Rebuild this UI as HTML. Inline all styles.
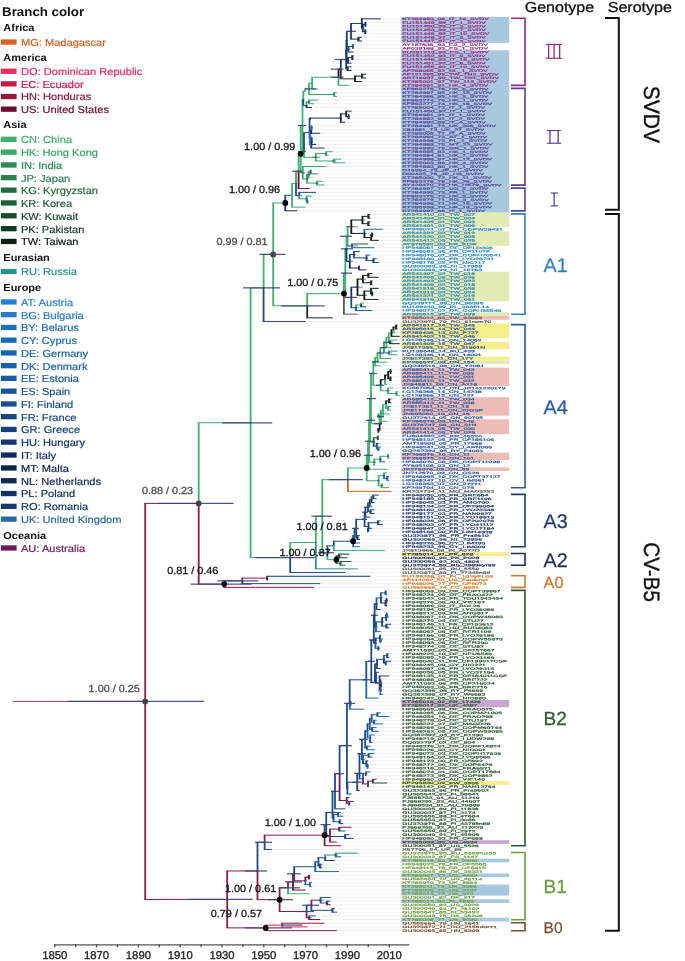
<!DOCTYPE html><html><head><meta charset="utf-8"><style>html,body{margin:0;padding:0;background:#fff;}svg{display:block;will-change:transform;text-rendering:geometricPrecision;font-family:"Liberation Sans",sans-serif;}</style></head><body><svg width="685" height="961" viewBox="0 0 685 961" font-family="Liberation Sans, sans-serif">
<rect width="685" height="961" fill="#fff"/>
<text x="2.1" y="16.1" font-size="12.6" font-weight="bold" fill="#111" textLength="82" lengthAdjust="spacingAndGlyphs">Branch color</text>
<text x="3.3" y="30.7" font-size="10.1" font-weight="bold" fill="#111" textLength="31.2" lengthAdjust="spacingAndGlyphs">Africa</text>
<rect x="0.9" y="39.4" width="15.7" height="5.3" fill="#d9621f"/>
<text x="20.9" y="45.9" font-size="10.2" fill="#d9621f" stroke="#d9621f" stroke-width="0.2" textLength="85.1" lengthAdjust="spacingAndGlyphs">MG: Madagascar</text>
<text x="3.3" y="60.9" font-size="10.1" font-weight="bold" fill="#111" textLength="43.4" lengthAdjust="spacingAndGlyphs">America</text>
<rect x="0.9" y="68.6" width="15.7" height="5.3" fill="#ee2a62"/>
<text x="20.9" y="75.1" font-size="10.2" fill="#ee2a62" stroke="#ee2a62" stroke-width="0.2" textLength="121.5" lengthAdjust="spacingAndGlyphs">DO: Dominican Republic</text>
<rect x="0.9" y="81.2" width="15.7" height="5.3" fill="#cc1a4c"/>
<text x="20.9" y="87.7" font-size="10.2" fill="#cc1a4c" stroke="#cc1a4c" stroke-width="0.2" textLength="62.9" lengthAdjust="spacingAndGlyphs">EC: Ecuador</text>
<rect x="0.9" y="93.9" width="15.7" height="5.3" fill="#92183c"/>
<text x="20.9" y="100.4" font-size="10.2" fill="#92183c" stroke="#92183c" stroke-width="0.2" textLength="70.3" lengthAdjust="spacingAndGlyphs">HN: Honduras</text>
<rect x="0.9" y="106.5" width="15.7" height="5.3" fill="#6a0e2a"/>
<text x="20.9" y="113.0" font-size="10.2" fill="#6a0e2a" stroke="#6a0e2a" stroke-width="0.2" textLength="88.2" lengthAdjust="spacingAndGlyphs">US: United States</text>
<text x="3.3" y="128.1" font-size="10.1" font-weight="bold" fill="#111" textLength="23.2" lengthAdjust="spacingAndGlyphs">Asia</text>
<rect x="0.9" y="136.7" width="15.7" height="5.3" fill="#3cb06c"/>
<text x="20.9" y="143.2" font-size="10.2" fill="#3cb06c" stroke="#3cb06c" stroke-width="0.2" textLength="51.2" lengthAdjust="spacingAndGlyphs">CN: China</text>
<rect x="0.9" y="149.5" width="15.7" height="5.3" fill="#38a866"/>
<text x="20.9" y="156.0" font-size="10.2" fill="#38a866" stroke="#38a866" stroke-width="0.2" textLength="77.1" lengthAdjust="spacingAndGlyphs">HK: Hong Kong</text>
<rect x="0.9" y="162.3" width="15.7" height="5.3" fill="#2c8a52"/>
<text x="20.9" y="168.8" font-size="10.2" fill="#2c8a52" stroke="#2c8a52" stroke-width="0.2" textLength="41.3" lengthAdjust="spacingAndGlyphs">IN: India</text>
<rect x="0.9" y="175.0" width="15.7" height="5.3" fill="#2c8050"/>
<text x="20.9" y="181.5" font-size="10.2" fill="#2c8050" stroke="#2c8050" stroke-width="0.2" textLength="49.4" lengthAdjust="spacingAndGlyphs">JP: Japan</text>
<rect x="0.9" y="187.5" width="15.7" height="5.3" fill="#226a40"/>
<text x="20.9" y="194.0" font-size="10.2" fill="#226a40" stroke="#226a40" stroke-width="0.2" textLength="77.1" lengthAdjust="spacingAndGlyphs">KG: Kyrgyzstan</text>
<rect x="0.9" y="200.3" width="15.7" height="5.3" fill="#1c5e38"/>
<text x="20.9" y="206.8" font-size="10.2" fill="#1c5e38" stroke="#1c5e38" stroke-width="0.2" textLength="51.2" lengthAdjust="spacingAndGlyphs">KR: Korea</text>
<rect x="0.9" y="213.1" width="15.7" height="5.3" fill="#184a2c"/>
<text x="20.9" y="219.6" font-size="10.2" fill="#184a2c" stroke="#184a2c" stroke-width="0.2" textLength="57.2" lengthAdjust="spacingAndGlyphs">KW: Kuwait</text>
<rect x="0.9" y="226.0" width="15.7" height="5.3" fill="#123a22"/>
<text x="20.9" y="232.5" font-size="10.2" fill="#123a22" stroke="#123a22" stroke-width="0.2" textLength="63.5" lengthAdjust="spacingAndGlyphs">PK: Pakistan</text>
<rect x="0.9" y="238.8" width="15.7" height="5.3" fill="#0e1e14"/>
<text x="20.9" y="245.3" font-size="10.2" fill="#0e1e14" stroke="#0e1e14" stroke-width="0.2" textLength="57.6" lengthAdjust="spacingAndGlyphs">TW: Taiwan</text>
<text x="3.3" y="260.5" font-size="10.1" font-weight="bold" fill="#111" textLength="46.5" lengthAdjust="spacingAndGlyphs">Eurasian</text>
<rect x="0.9" y="268.9" width="15.7" height="5.3" fill="#2a9088"/>
<text x="20.9" y="275.4" font-size="10.2" fill="#2a9088" stroke="#2a9088" stroke-width="0.2" textLength="56.1" lengthAdjust="spacingAndGlyphs">RU: Russia</text>
<text x="3.3" y="290.8" font-size="10.1" font-weight="bold" fill="#111" textLength="37.9" lengthAdjust="spacingAndGlyphs">Europe</text>
<rect x="0.9" y="299.3" width="15.7" height="5.3" fill="#2a80d0"/>
<text x="20.9" y="305.8" font-size="10.2" fill="#2a80d0" stroke="#2a80d0" stroke-width="0.2" textLength="52.2" lengthAdjust="spacingAndGlyphs">AT: Austria</text>
<rect x="0.9" y="312.0" width="15.7" height="5.3" fill="#2a7ccc"/>
<text x="20.9" y="318.5" font-size="10.2" fill="#2a7ccc" stroke="#2a7ccc" stroke-width="0.2" textLength="62.9" lengthAdjust="spacingAndGlyphs">BG: Bulgaria</text>
<rect x="0.9" y="324.8" width="15.7" height="5.3" fill="#1e6cc0"/>
<text x="20.9" y="331.3" font-size="10.2" fill="#1e6cc0" stroke="#1e6cc0" stroke-width="0.2" textLength="58.0" lengthAdjust="spacingAndGlyphs">BY: Belarus</text>
<rect x="0.9" y="337.5" width="15.7" height="5.3" fill="#1a68b8"/>
<text x="20.9" y="344.0" font-size="10.2" fill="#1a68b8" stroke="#1a68b8" stroke-width="0.2" textLength="56.1" lengthAdjust="spacingAndGlyphs">CY: Cyprus</text>
<rect x="0.9" y="350.3" width="15.7" height="5.3" fill="#1a64b0"/>
<text x="20.9" y="356.8" font-size="10.2" fill="#1a64b0" stroke="#1a64b0" stroke-width="0.2" textLength="67.2" lengthAdjust="spacingAndGlyphs">DE: Germany</text>
<rect x="0.9" y="363.0" width="15.7" height="5.3" fill="#1a60a8"/>
<text x="20.9" y="369.5" font-size="10.2" fill="#1a60a8" stroke="#1a60a8" stroke-width="0.2" textLength="66.6" lengthAdjust="spacingAndGlyphs">DK: Denmark</text>
<rect x="0.9" y="375.7" width="15.7" height="5.3" fill="#1a5aa0"/>
<text x="20.9" y="382.2" font-size="10.2" fill="#1a5aa0" stroke="#1a5aa0" stroke-width="0.2" textLength="58.0" lengthAdjust="spacingAndGlyphs">EE: Estonia</text>
<rect x="0.9" y="388.5" width="15.7" height="5.3" fill="#1a5496"/>
<text x="20.9" y="395.0" font-size="10.2" fill="#1a5496" stroke="#1a5496" stroke-width="0.2" textLength="49.4" lengthAdjust="spacingAndGlyphs">ES: Spain</text>
<rect x="0.9" y="401.3" width="15.7" height="5.3" fill="#1a4e8e"/>
<text x="20.9" y="407.8" font-size="10.2" fill="#1a4e8e" stroke="#1a4e8e" stroke-width="0.2" textLength="52.4" lengthAdjust="spacingAndGlyphs">FI: Finland</text>
<rect x="0.9" y="414.0" width="15.7" height="5.3" fill="#1a4680"/>
<text x="20.9" y="420.5" font-size="10.2" fill="#1a4680" stroke="#1a4680" stroke-width="0.2" textLength="55.5" lengthAdjust="spacingAndGlyphs">FR: France</text>
<rect x="0.9" y="426.8" width="15.7" height="5.3" fill="#163e78"/>
<text x="20.9" y="433.3" font-size="10.2" fill="#163e78" stroke="#163e78" stroke-width="0.2" textLength="59.2" lengthAdjust="spacingAndGlyphs">GR: Greece</text>
<rect x="0.9" y="439.5" width="15.7" height="5.3" fill="#143670"/>
<text x="20.9" y="446.0" font-size="10.2" fill="#143670" stroke="#143670" stroke-width="0.2" textLength="64.2" lengthAdjust="spacingAndGlyphs">HU: Hungary</text>
<rect x="0.9" y="452.4" width="15.7" height="5.3" fill="#102c5e"/>
<text x="20.9" y="458.9" font-size="10.2" fill="#102c5e" stroke="#102c5e" stroke-width="0.2" textLength="35.2" lengthAdjust="spacingAndGlyphs">IT: Italy</text>
<rect x="0.9" y="465.3" width="15.7" height="5.3" fill="#0c2448"/>
<text x="20.9" y="471.8" font-size="10.2" fill="#0c2448" stroke="#0c2448" stroke-width="0.2" textLength="48.1" lengthAdjust="spacingAndGlyphs">MT: Malta</text>
<rect x="0.9" y="478.1" width="15.7" height="5.3" fill="#102a52"/>
<text x="20.9" y="484.6" font-size="10.2" fill="#102a52" stroke="#102a52" stroke-width="0.2" textLength="80.2" lengthAdjust="spacingAndGlyphs">NL: Netherlands</text>
<rect x="0.9" y="490.9" width="15.7" height="5.3" fill="#143260"/>
<text x="20.9" y="497.4" font-size="10.2" fill="#143260" stroke="#143260" stroke-width="0.2" textLength="54.3" lengthAdjust="spacingAndGlyphs">PL: Poland</text>
<rect x="0.9" y="503.7" width="15.7" height="5.3" fill="#183a6a"/>
<text x="20.9" y="510.2" font-size="10.2" fill="#183a6a" stroke="#183a6a" stroke-width="0.2" textLength="67.2" lengthAdjust="spacingAndGlyphs">RO: Romania</text>
<rect x="0.9" y="516.5" width="15.7" height="5.3" fill="#2a6aa0"/>
<text x="20.9" y="523.0" font-size="10.2" fill="#2a6aa0" stroke="#2a6aa0" stroke-width="0.2" textLength="100.6" lengthAdjust="spacingAndGlyphs">UK: United Kingdom</text>
<text x="3.3" y="538.5" font-size="10.1" font-weight="bold" fill="#111" textLength="42.8" lengthAdjust="spacingAndGlyphs">Oceania</text>
<rect x="0.9" y="545.3" width="15.7" height="5.3" fill="#6a1a5a"/>
<text x="20.9" y="551.8" font-size="10.2" fill="#6a1a5a" stroke="#6a1a5a" stroke-width="0.2" textLength="64.2" lengthAdjust="spacingAndGlyphs">AU: Australia</text>
<g stroke="#555" stroke-width="1.4" fill="none">
<line x1="54.1" y1="944.9" x2="409.5" y2="944.9"/>
<line x1="54.8" y1="944.2" x2="54.8" y2="947.3"/>
<line x1="75.7" y1="944.2" x2="75.7" y2="947.3"/>
<line x1="96.6" y1="944.2" x2="96.6" y2="947.3"/>
<line x1="117.5" y1="944.2" x2="117.5" y2="947.3"/>
<line x1="138.4" y1="944.2" x2="138.4" y2="947.3"/>
<line x1="159.3" y1="944.2" x2="159.3" y2="947.3"/>
<line x1="180.2" y1="944.2" x2="180.2" y2="947.3"/>
<line x1="201.1" y1="944.2" x2="201.1" y2="947.3"/>
<line x1="222.0" y1="944.2" x2="222.0" y2="947.3"/>
<line x1="242.9" y1="944.2" x2="242.9" y2="947.3"/>
<line x1="263.8" y1="944.2" x2="263.8" y2="947.3"/>
<line x1="284.7" y1="944.2" x2="284.7" y2="947.3"/>
<line x1="305.6" y1="944.2" x2="305.6" y2="947.3"/>
<line x1="326.5" y1="944.2" x2="326.5" y2="947.3"/>
<line x1="347.4" y1="944.2" x2="347.4" y2="947.3"/>
<line x1="368.3" y1="944.2" x2="368.3" y2="947.3"/>
<line x1="389.2" y1="944.2" x2="389.2" y2="947.3"/>
</g>
<text x="54.8" y="959.4" font-size="11.3" fill="#222" stroke="#222" stroke-width="0.3" text-anchor="middle">1850</text>
<text x="96.6" y="959.4" font-size="11.3" fill="#222" stroke="#222" stroke-width="0.3" text-anchor="middle">1870</text>
<text x="138.4" y="959.4" font-size="11.3" fill="#222" stroke="#222" stroke-width="0.3" text-anchor="middle">1890</text>
<text x="180.2" y="959.4" font-size="11.3" fill="#222" stroke="#222" stroke-width="0.3" text-anchor="middle">1910</text>
<text x="222.0" y="959.4" font-size="11.3" fill="#222" stroke="#222" stroke-width="0.3" text-anchor="middle">1930</text>
<text x="263.8" y="959.4" font-size="11.3" fill="#222" stroke="#222" stroke-width="0.3" text-anchor="middle">1950</text>
<text x="305.6" y="959.4" font-size="11.3" fill="#222" stroke="#222" stroke-width="0.3" text-anchor="middle">1970</text>
<text x="347.4" y="959.4" font-size="11.3" fill="#222" stroke="#222" stroke-width="0.3" text-anchor="middle">1990</text>
<text x="389.2" y="959.4" font-size="11.3" fill="#222" stroke="#222" stroke-width="0.3" text-anchor="middle">2010</text>
<g stroke="#e4e4e4" stroke-width="0.6">
<line x1="381.3" y1="18.85" x2="401" y2="18.85"/>
<line x1="366.7" y1="22.54" x2="401" y2="22.54"/>
<line x1="366.7" y1="26.23" x2="401" y2="26.23"/>
<line x1="366.7" y1="29.92" x2="401" y2="29.92"/>
<line x1="366.7" y1="33.61" x2="401" y2="33.61"/>
<line x1="362.5" y1="37.30" x2="401" y2="37.30"/>
<line x1="362.5" y1="40.99" x2="401" y2="40.99"/>
<line x1="354.2" y1="44.69" x2="401" y2="44.69"/>
<line x1="354.2" y1="48.38" x2="401" y2="48.38"/>
<line x1="354.2" y1="52.07" x2="401" y2="52.07"/>
<line x1="354.2" y1="55.76" x2="401" y2="55.76"/>
<line x1="354.2" y1="59.45" x2="401" y2="59.45"/>
<line x1="352.1" y1="63.14" x2="401" y2="63.14"/>
<line x1="352.1" y1="66.84" x2="401" y2="66.84"/>
<line x1="352.1" y1="70.53" x2="401" y2="70.53"/>
<line x1="366.7" y1="74.22" x2="401" y2="74.22"/>
<line x1="366.7" y1="77.91" x2="401" y2="77.91"/>
<line x1="362.5" y1="81.60" x2="401" y2="81.60"/>
<line x1="350.0" y1="85.29" x2="401" y2="85.29"/>
<line x1="318.6" y1="88.98" x2="401" y2="88.98"/>
<line x1="337.4" y1="92.68" x2="401" y2="92.68"/>
<line x1="337.4" y1="96.37" x2="401" y2="96.37"/>
<line x1="318.6" y1="100.06" x2="401" y2="100.06"/>
<line x1="314.5" y1="103.75" x2="401" y2="103.75"/>
<line x1="312.4" y1="107.44" x2="401" y2="107.44"/>
<line x1="352.1" y1="111.13" x2="401" y2="111.13"/>
<line x1="350.0" y1="114.82" x2="401" y2="114.82"/>
<line x1="350.0" y1="118.52" x2="401" y2="118.52"/>
<line x1="345.8" y1="122.21" x2="401" y2="122.21"/>
<line x1="312.4" y1="125.90" x2="401" y2="125.90"/>
<line x1="312.4" y1="129.59" x2="401" y2="129.59"/>
<line x1="320.7" y1="133.28" x2="401" y2="133.28"/>
<line x1="312.4" y1="136.97" x2="401" y2="136.97"/>
<line x1="312.4" y1="140.67" x2="401" y2="140.67"/>
<line x1="316.6" y1="144.36" x2="401" y2="144.36"/>
<line x1="324.9" y1="148.05" x2="401" y2="148.05"/>
<line x1="333.3" y1="151.74" x2="401" y2="151.74"/>
<line x1="329.1" y1="155.43" x2="401" y2="155.43"/>
<line x1="341.6" y1="159.12" x2="401" y2="159.12"/>
<line x1="345.8" y1="162.81" x2="401" y2="162.81"/>
<line x1="327.0" y1="166.51" x2="401" y2="166.51"/>
<line x1="312.4" y1="170.20" x2="401" y2="170.20"/>
<line x1="318.6" y1="173.89" x2="401" y2="173.89"/>
<line x1="310.3" y1="177.58" x2="401" y2="177.58"/>
<line x1="322.8" y1="181.27" x2="401" y2="181.27"/>
<line x1="324.9" y1="184.96" x2="401" y2="184.96"/>
<line x1="310.3" y1="188.65" x2="401" y2="188.65"/>
<line x1="316.6" y1="192.35" x2="401" y2="192.35"/>
<line x1="312.4" y1="196.04" x2="401" y2="196.04"/>
<line x1="308.2" y1="199.73" x2="401" y2="199.73"/>
<line x1="308.2" y1="203.42" x2="401" y2="203.42"/>
<line x1="306.1" y1="207.11" x2="401" y2="207.11"/>
<line x1="297.7" y1="210.80" x2="401" y2="210.80"/>
<line x1="370.9" y1="214.50" x2="401" y2="214.50"/>
<line x1="370.9" y1="218.19" x2="401" y2="218.19"/>
<line x1="370.9" y1="221.88" x2="401" y2="221.88"/>
<line x1="370.9" y1="225.57" x2="401" y2="225.57"/>
<line x1="383.4" y1="229.26" x2="401" y2="229.26"/>
<line x1="373.0" y1="232.95" x2="401" y2="232.95"/>
<line x1="373.0" y1="236.64" x2="401" y2="236.64"/>
<line x1="379.2" y1="240.34" x2="401" y2="240.34"/>
<line x1="368.8" y1="244.03" x2="401" y2="244.03"/>
<line x1="375.1" y1="247.72" x2="401" y2="247.72"/>
<line x1="360.4" y1="251.41" x2="401" y2="251.41"/>
<line x1="370.9" y1="255.10" x2="401" y2="255.10"/>
<line x1="377.2" y1="258.79" x2="401" y2="258.79"/>
<line x1="379.2" y1="262.48" x2="401" y2="262.48"/>
<line x1="360.4" y1="266.18" x2="401" y2="266.18"/>
<line x1="366.7" y1="269.87" x2="401" y2="269.87"/>
<line x1="373.0" y1="273.56" x2="401" y2="273.56"/>
<line x1="379.2" y1="277.25" x2="401" y2="277.25"/>
<line x1="373.0" y1="280.94" x2="401" y2="280.94"/>
<line x1="373.0" y1="284.63" x2="401" y2="284.63"/>
<line x1="379.2" y1="288.33" x2="401" y2="288.33"/>
<line x1="373.0" y1="292.02" x2="401" y2="292.02"/>
<line x1="373.0" y1="295.71" x2="401" y2="295.71"/>
<line x1="379.2" y1="299.40" x2="401" y2="299.40"/>
<line x1="364.6" y1="303.09" x2="401" y2="303.09"/>
<line x1="366.7" y1="306.78" x2="401" y2="306.78"/>
<line x1="373.0" y1="310.47" x2="401" y2="310.47"/>
<line x1="358.3" y1="314.17" x2="401" y2="314.17"/>
<line x1="333.3" y1="317.86" x2="401" y2="317.86"/>
<line x1="306.1" y1="321.55" x2="401" y2="321.55"/>
<line x1="398.1" y1="325.24" x2="401" y2="325.24"/>
<line x1="398.1" y1="328.93" x2="401" y2="328.93"/>
<line x1="396.0" y1="332.62" x2="401" y2="332.62"/>
<line x1="400.1" y1="336.31" x2="401" y2="336.31"/>
<line x1="398.1" y1="340.01" x2="401" y2="340.01"/>
<line x1="400.1" y1="343.70" x2="401" y2="343.70"/>
<line x1="391.8" y1="347.39" x2="401" y2="347.39"/>
<line x1="398.1" y1="351.08" x2="401" y2="351.08"/>
<line x1="398.1" y1="354.77" x2="401" y2="354.77"/>
<line x1="391.8" y1="358.46" x2="401" y2="358.46"/>
<line x1="387.6" y1="362.16" x2="401" y2="362.16"/>
<line x1="381.3" y1="365.85" x2="401" y2="365.85"/>
<line x1="391.8" y1="369.54" x2="401" y2="369.54"/>
<line x1="391.8" y1="373.23" x2="401" y2="373.23"/>
<line x1="391.8" y1="376.92" x2="401" y2="376.92"/>
<line x1="391.8" y1="380.61" x2="401" y2="380.61"/>
<line x1="387.6" y1="384.30" x2="401" y2="384.30"/>
<line x1="393.9" y1="388.00" x2="401" y2="388.00"/>
<line x1="398.1" y1="391.69" x2="401" y2="391.69"/>
<line x1="400.1" y1="395.38" x2="401" y2="395.38"/>
<line x1="391.8" y1="399.07" x2="401" y2="399.07"/>
<line x1="391.8" y1="402.76" x2="401" y2="402.76"/>
<line x1="391.8" y1="406.45" x2="401" y2="406.45"/>
<line x1="391.8" y1="410.14" x2="401" y2="410.14"/>
<line x1="389.7" y1="413.84" x2="401" y2="413.84"/>
<line x1="379.2" y1="417.53" x2="401" y2="417.53"/>
<line x1="387.6" y1="421.22" x2="401" y2="421.22"/>
<line x1="381.3" y1="424.91" x2="401" y2="424.91"/>
<line x1="379.2" y1="428.60" x2="401" y2="428.60"/>
<line x1="379.2" y1="432.29" x2="401" y2="432.29"/>
<line x1="379.2" y1="435.99" x2="401" y2="435.99"/>
<line x1="379.2" y1="439.68" x2="401" y2="439.68"/>
<line x1="379.2" y1="443.37" x2="401" y2="443.37"/>
<line x1="381.3" y1="447.06" x2="401" y2="447.06"/>
<line x1="379.2" y1="450.75" x2="401" y2="450.75"/>
<line x1="389.7" y1="454.44" x2="401" y2="454.44"/>
<line x1="389.7" y1="458.13" x2="401" y2="458.13"/>
<line x1="385.5" y1="461.83" x2="401" y2="461.83"/>
<line x1="375.1" y1="465.52" x2="401" y2="465.52"/>
<line x1="387.6" y1="469.21" x2="401" y2="469.21"/>
<line x1="387.6" y1="472.90" x2="401" y2="472.90"/>
<line x1="389.7" y1="476.59" x2="401" y2="476.59"/>
<line x1="389.7" y1="480.28" x2="401" y2="480.28"/>
<line x1="383.4" y1="483.97" x2="401" y2="483.97"/>
<line x1="389.7" y1="487.67" x2="401" y2="487.67"/>
<line x1="391.8" y1="491.36" x2="401" y2="491.36"/>
<line x1="379.2" y1="495.05" x2="401" y2="495.05"/>
<line x1="377.2" y1="498.74" x2="401" y2="498.74"/>
<line x1="375.1" y1="502.43" x2="401" y2="502.43"/>
<line x1="373.0" y1="506.12" x2="401" y2="506.12"/>
<line x1="375.1" y1="509.82" x2="401" y2="509.82"/>
<line x1="375.1" y1="513.51" x2="401" y2="513.51"/>
<line x1="370.9" y1="517.20" x2="401" y2="517.20"/>
<line x1="381.3" y1="520.89" x2="401" y2="520.89"/>
<line x1="383.4" y1="524.58" x2="401" y2="524.58"/>
<line x1="373.0" y1="528.27" x2="401" y2="528.27"/>
<line x1="368.8" y1="531.96" x2="401" y2="531.96"/>
<line x1="360.4" y1="535.66" x2="401" y2="535.66"/>
<line x1="360.4" y1="539.35" x2="401" y2="539.35"/>
<line x1="360.4" y1="543.04" x2="401" y2="543.04"/>
<line x1="360.4" y1="546.73" x2="401" y2="546.73"/>
<line x1="385.5" y1="550.42" x2="401" y2="550.42"/>
<line x1="350.0" y1="554.11" x2="401" y2="554.11"/>
<line x1="347.9" y1="557.80" x2="401" y2="557.80"/>
<line x1="352.1" y1="561.50" x2="401" y2="561.50"/>
<line x1="345.8" y1="565.19" x2="401" y2="565.19"/>
<line x1="358.3" y1="568.88" x2="401" y2="568.88"/>
<line x1="345.8" y1="572.57" x2="401" y2="572.57"/>
<line x1="370.9" y1="576.26" x2="401" y2="576.26"/>
<line x1="268.5" y1="579.95" x2="401" y2="579.95"/>
<line x1="320.7" y1="583.65" x2="401" y2="583.65"/>
<line x1="314.5" y1="587.34" x2="401" y2="587.34"/>
<line x1="387.6" y1="591.03" x2="401" y2="591.03"/>
<line x1="387.6" y1="594.72" x2="401" y2="594.72"/>
<line x1="387.6" y1="598.41" x2="401" y2="598.41"/>
<line x1="387.6" y1="602.10" x2="401" y2="602.10"/>
<line x1="387.6" y1="605.79" x2="401" y2="605.79"/>
<line x1="381.3" y1="609.49" x2="401" y2="609.49"/>
<line x1="387.6" y1="613.18" x2="401" y2="613.18"/>
<line x1="389.7" y1="616.87" x2="401" y2="616.87"/>
<line x1="387.6" y1="620.56" x2="401" y2="620.56"/>
<line x1="391.8" y1="624.25" x2="401" y2="624.25"/>
<line x1="389.7" y1="627.94" x2="401" y2="627.94"/>
<line x1="381.3" y1="631.63" x2="401" y2="631.63"/>
<line x1="381.3" y1="635.33" x2="401" y2="635.33"/>
<line x1="383.4" y1="639.02" x2="401" y2="639.02"/>
<line x1="381.3" y1="642.71" x2="401" y2="642.71"/>
<line x1="379.2" y1="646.40" x2="401" y2="646.40"/>
<line x1="379.2" y1="650.09" x2="401" y2="650.09"/>
<line x1="389.7" y1="653.78" x2="401" y2="653.78"/>
<line x1="389.7" y1="657.48" x2="401" y2="657.48"/>
<line x1="391.8" y1="661.17" x2="401" y2="661.17"/>
<line x1="387.6" y1="664.86" x2="401" y2="664.86"/>
<line x1="381.3" y1="668.55" x2="401" y2="668.55"/>
<line x1="379.2" y1="672.24" x2="401" y2="672.24"/>
<line x1="389.7" y1="675.93" x2="401" y2="675.93"/>
<line x1="381.3" y1="679.62" x2="401" y2="679.62"/>
<line x1="381.3" y1="683.32" x2="401" y2="683.32"/>
<line x1="381.3" y1="687.01" x2="401" y2="687.01"/>
<line x1="381.3" y1="690.70" x2="401" y2="690.70"/>
<line x1="383.4" y1="694.39" x2="401" y2="694.39"/>
<line x1="379.2" y1="698.08" x2="401" y2="698.08"/>
<line x1="352.1" y1="701.77" x2="401" y2="701.77"/>
<line x1="352.1" y1="705.46" x2="401" y2="705.46"/>
<line x1="364.6" y1="709.16" x2="401" y2="709.16"/>
<line x1="381.3" y1="712.85" x2="401" y2="712.85"/>
<line x1="389.7" y1="716.54" x2="401" y2="716.54"/>
<line x1="377.2" y1="720.23" x2="401" y2="720.23"/>
<line x1="383.4" y1="723.92" x2="401" y2="723.92"/>
<line x1="377.2" y1="727.61" x2="401" y2="727.61"/>
<line x1="379.2" y1="731.31" x2="401" y2="731.31"/>
<line x1="375.1" y1="735.00" x2="401" y2="735.00"/>
<line x1="370.9" y1="738.69" x2="401" y2="738.69"/>
<line x1="373.0" y1="742.38" x2="401" y2="742.38"/>
<line x1="370.9" y1="746.07" x2="401" y2="746.07"/>
<line x1="375.1" y1="749.76" x2="401" y2="749.76"/>
<line x1="375.1" y1="753.45" x2="401" y2="753.45"/>
<line x1="373.0" y1="757.15" x2="401" y2="757.15"/>
<line x1="368.8" y1="760.84" x2="401" y2="760.84"/>
<line x1="368.8" y1="764.53" x2="401" y2="764.53"/>
<line x1="368.8" y1="768.22" x2="401" y2="768.22"/>
<line x1="370.9" y1="771.91" x2="401" y2="771.91"/>
<line x1="366.7" y1="775.60" x2="401" y2="775.60"/>
<line x1="377.2" y1="779.29" x2="401" y2="779.29"/>
<line x1="387.6" y1="782.99" x2="401" y2="782.99"/>
<line x1="368.8" y1="786.68" x2="401" y2="786.68"/>
<line x1="360.4" y1="790.37" x2="401" y2="790.37"/>
<line x1="352.1" y1="794.06" x2="401" y2="794.06"/>
<line x1="350.0" y1="797.75" x2="401" y2="797.75"/>
<line x1="354.2" y1="801.44" x2="401" y2="801.44"/>
<line x1="350.0" y1="805.14" x2="401" y2="805.14"/>
<line x1="345.8" y1="808.83" x2="401" y2="808.83"/>
<line x1="341.6" y1="812.52" x2="401" y2="812.52"/>
<line x1="343.7" y1="816.21" x2="401" y2="816.21"/>
<line x1="341.6" y1="819.90" x2="401" y2="819.90"/>
<line x1="343.7" y1="823.59" x2="401" y2="823.59"/>
<line x1="350.0" y1="834.67" x2="401" y2="834.67"/>
<line x1="354.2" y1="838.36" x2="401" y2="838.36"/>
<line x1="352.1" y1="827.28" x2="401" y2="827.28"/>
<line x1="345.8" y1="830.98" x2="401" y2="830.98"/>
<line x1="337.4" y1="842.05" x2="401" y2="842.05"/>
<line x1="341.6" y1="845.74" x2="401" y2="845.74"/>
<line x1="272.7" y1="849.43" x2="401" y2="849.43"/>
<line x1="358.3" y1="853.12" x2="401" y2="853.12"/>
<line x1="341.6" y1="856.82" x2="401" y2="856.82"/>
<line x1="335.4" y1="860.51" x2="401" y2="860.51"/>
<line x1="322.8" y1="864.20" x2="401" y2="864.20"/>
<line x1="322.8" y1="867.89" x2="401" y2="867.89"/>
<line x1="339.5" y1="871.58" x2="401" y2="871.58"/>
<line x1="310.3" y1="875.27" x2="401" y2="875.27"/>
<line x1="310.3" y1="878.97" x2="401" y2="878.97"/>
<line x1="312.4" y1="882.66" x2="401" y2="882.66"/>
<line x1="312.4" y1="886.35" x2="401" y2="886.35"/>
<line x1="306.1" y1="890.04" x2="401" y2="890.04"/>
<line x1="310.3" y1="893.73" x2="401" y2="893.73"/>
<line x1="331.2" y1="897.42" x2="401" y2="897.42"/>
<line x1="331.2" y1="901.11" x2="401" y2="901.11"/>
<line x1="331.2" y1="904.81" x2="401" y2="904.81"/>
<line x1="335.4" y1="908.50" x2="401" y2="908.50"/>
<line x1="337.4" y1="912.19" x2="401" y2="912.19"/>
<line x1="316.6" y1="915.88" x2="401" y2="915.88"/>
<line x1="320.7" y1="919.57" x2="401" y2="919.57"/>
<line x1="324.9" y1="923.26" x2="401" y2="923.26"/>
<line x1="308.2" y1="926.95" x2="401" y2="926.95"/>
<line x1="337.4" y1="930.65" x2="401" y2="930.65"/>
</g>
<line x1="12.8" y1="701.43" x2="145.2" y2="701.43" stroke="#a23c5a" stroke-width="1.0"/>
<g fill="none" stroke-width="1.0">
<path d="M144.30 503.43H198.70" stroke="#8e1a40"/>
<path d="M197.80 422.76H250.60" stroke="#3cb06c"/>
<path d="M249.70 287.97H263.60" stroke="#3cb06c"/>
<path d="M262.70 254.39H273.20" stroke="#3cb06c"/>
<path d="M272.30 203.03H285.30" stroke="#3cb06c"/>
<path d="M284.40 195.25H292.10" stroke="#1e4a86"/>
<path d="M291.20 183.39H296.00" stroke="#3cb06c"/>
<path d="M295.10 171.20H298.60" stroke="#3cb06c"/>
<path d="M297.70 153.75H300.70" stroke="#3cb06c"/>
<path d="M299.80 125.60H302.50" stroke="#3cb06c"/>
<path d="M301.60 99.60H303.30" stroke="#3cb06c"/>
<path d="M302.40 91.30H305.00" stroke="#3cb06c"/>
<path d="M304.10 88.90H308.90" stroke="#3cb06c"/>
<path d="M308.00 83.20H312.10" stroke="#3cb06c"/>
<path d="M311.20 77.23H338.50" stroke="#3cb06c"/>
<path d="M337.60 69.17H340.80" stroke="#1a1a30"/>
<path d="M339.90 59.51H346.20" stroke="#163a70"/>
<path d="M345.30 50.34H346.50" stroke="#163a70"/>
<path d="M345.60 40.30H346.80" stroke="#163a70"/>
<path d="M345.90 31.30H351.00" stroke="#163a70"/>
<path d="M350.10 23.46H361.80" stroke="#163a70"/>
<path d="M360.90 18.85H380.84" stroke="#102c5e"/>
<path d="M360.90 28.07H362.80" stroke="#102c5e"/>
<path d="M361.90 24.38H365.32" stroke="#102c5e"/>
<path d="M364.42 22.54H366.21" stroke="#102c5e"/>
<path d="M364.42 26.23H366.21" stroke="#102c5e"/>
<path d="M361.90 31.77H365.28" stroke="#102c5e"/>
<path d="M364.38 29.92H366.21" stroke="#102c5e"/>
<path d="M364.38 33.61H366.21" stroke="#102c5e"/>
<path d="M350.10 39.15H358.40" stroke="#163a70"/>
<path d="M357.50 37.30H362.03" stroke="#102c5e"/>
<path d="M357.50 40.99H362.03" stroke="#102c5e"/>
<path d="M345.90 49.30H348.50" stroke="#163a70"/>
<path d="M347.60 46.53H352.84" stroke="#1a5496"/>
<path d="M351.94 44.69H353.67" stroke="#1a5496"/>
<path d="M351.94 48.38H353.67" stroke="#1a5496"/>
<path d="M347.60 52.07H353.67" stroke="#1a5496"/>
<path d="M345.60 60.38H348.00" stroke="#163a70"/>
<path d="M347.10 57.61H352.26" stroke="#102c5e"/>
<path d="M351.36 55.76H353.67" stroke="#102c5e"/>
<path d="M351.36 59.45H353.67" stroke="#102c5e"/>
<path d="M347.10 63.14H351.58" stroke="#102c5e"/>
<path d="M345.30 68.68H347.50" stroke="#163a70"/>
<path d="M346.60 66.84H351.58" stroke="#102c5e"/>
<path d="M346.60 70.53H351.58" stroke="#102a52"/>
<path d="M339.90 78.83H355.00" stroke="#2a2a2a"/>
<path d="M354.10 76.06H362.00" stroke="#0e1e14"/>
<path d="M361.10 74.22H366.21" stroke="#0e1e14"/>
<path d="M361.10 77.91H366.21" stroke="#0e1e14"/>
<path d="M354.10 81.60H362.03" stroke="#0e1e14"/>
<path d="M337.60 85.29H349.49" stroke="#3cb06c"/>
<path d="M311.20 88.98H318.14" stroke="#3cb06c"/>
<path d="M308.00 94.60H314.50" stroke="#3cb06c"/>
<path d="M313.60 94.52H334.00" stroke="#38a866"/>
<path d="M333.10 92.68H336.95" stroke="#38a866"/>
<path d="M333.10 96.37H336.95" stroke="#38a866"/>
<path d="M302.40 105.50H306.50" stroke="#1e4a86"/>
<path d="M305.60 101.90H309.00" stroke="#38a866"/>
<path d="M308.10 100.06H318.14" stroke="#38a866"/>
<path d="M308.10 103.75H313.96" stroke="#38a866"/>
<path d="M305.60 107.44H311.87" stroke="#102c5e"/>
<path d="M301.60 151.60H304.00" stroke="#3cb06c"/>
<path d="M303.10 132.70H309.60" stroke="#1e4a86"/>
<path d="M308.70 118.90H310.10" stroke="#1e4a86"/>
<path d="M309.20 118.05H340.80" stroke="#102c5e"/>
<path d="M339.90 113.90H346.13" stroke="#102c5e"/>
<path d="M345.23 111.13H351.58" stroke="#102c5e"/>
<path d="M345.23 116.67H348.62" stroke="#102c5e"/>
<path d="M347.72 114.82H349.49" stroke="#102c5e"/>
<path d="M347.72 118.52H349.49" stroke="#102c5e"/>
<path d="M339.90 122.21H345.31" stroke="#102c5e"/>
<path d="M308.70 137.67H309.80" stroke="#1e4a86"/>
<path d="M308.90 130.51H311.16" stroke="#2a6aa0"/>
<path d="M310.26 127.75H311.57" stroke="#2a6aa0"/>
<path d="M310.67 125.90H311.87" stroke="#2a6aa0"/>
<path d="M310.67 129.59H311.87" stroke="#2a6aa0"/>
<path d="M310.26 133.28H320.23" stroke="#102c5e"/>
<path d="M308.90 144.82H311.25" stroke="#2a80d0"/>
<path d="M310.35 141.59H311.57" stroke="#2a80d0"/>
<path d="M310.67 138.82H311.57" stroke="#2a80d0"/>
<path d="M310.67 136.97H311.87" stroke="#2a80d0"/>
<path d="M310.67 140.67H311.87" stroke="#143260"/>
<path d="M310.67 144.36H316.05" stroke="#0c2448"/>
<path d="M310.35 148.05H324.41" stroke="#163e78"/>
<path d="M303.10 157.28H315.80" stroke="#3cb06c"/>
<path d="M314.90 153.59H325.95" stroke="#38a866"/>
<path d="M325.05 151.74H332.77" stroke="#38a866"/>
<path d="M325.05 155.43H328.59" stroke="#38a866"/>
<path d="M314.90 160.97H333.78" stroke="#38a866"/>
<path d="M332.88 159.12H341.13" stroke="#38a866"/>
<path d="M332.88 162.81H345.31" stroke="#38a866"/>
<path d="M299.80 172.74H302.80" stroke="#3cb06c"/>
<path d="M301.90 166.51H326.50" stroke="#38a866"/>
<path d="M301.90 178.96H307.05" stroke="#38a866"/>
<path d="M306.15 174.81H308.57" stroke="#2c8050"/>
<path d="M307.67 172.04H310.45" stroke="#2c8050"/>
<path d="M309.55 170.20H311.87" stroke="#2c8050"/>
<path d="M309.55 173.89H318.14" stroke="#2c8050"/>
<path d="M307.67 177.58H309.78" stroke="#38a866"/>
<path d="M306.15 183.12H316.77" stroke="#38a866"/>
<path d="M315.87 181.27H322.32" stroke="#38a866"/>
<path d="M315.87 184.96H324.41" stroke="#38a866"/>
<path d="M297.70 188.65H309.78" stroke="#6a0e2a"/>
<path d="M295.10 195.58H299.20" stroke="#1e4a86"/>
<path d="M298.30 192.35H316.05" stroke="#1a4680"/>
<path d="M298.30 198.81H306.49" stroke="#38a866"/>
<path d="M305.59 196.04H311.87" stroke="#38a866"/>
<path d="M305.59 201.57H307.33" stroke="#2a7ccc"/>
<path d="M306.43 199.73H307.69" stroke="#2a7ccc"/>
<path d="M306.43 203.42H307.69" stroke="#38a866"/>
<path d="M291.20 207.11H305.60" stroke="#3cb06c"/>
<path d="M284.40 210.80H297.24" stroke="#102c5e"/>
<path d="M272.30 305.75H307.20" stroke="#3cb06c"/>
<path d="M306.30 293.65H343.90" stroke="#3cb06c"/>
<path d="M343.00 273.13H345.30" stroke="#3cb06c"/>
<path d="M344.40 248.81H346.50" stroke="#3cb06c"/>
<path d="M345.60 236.30H347.60" stroke="#3cb06c"/>
<path d="M346.70 226.72H351.30" stroke="#3cb06c"/>
<path d="M350.40 220.03H362.48" stroke="#0e1e14"/>
<path d="M361.58 216.34H368.40" stroke="#0e1e14"/>
<path d="M367.50 214.50H370.39" stroke="#0e1e14"/>
<path d="M367.50 218.19H370.39" stroke="#0e1e14"/>
<path d="M361.58 223.72H368.26" stroke="#0e1e14"/>
<path d="M367.36 221.88H370.39" stroke="#0e1e14"/>
<path d="M367.36 225.57H370.39" stroke="#0e1e14"/>
<path d="M350.40 233.41H364.44" stroke="#0e1e14"/>
<path d="M363.54 229.26H382.93" stroke="#1a60a8"/>
<path d="M363.54 237.57H371.11" stroke="#0e1e14"/>
<path d="M370.21 234.80H372.17" stroke="#0e1e14"/>
<path d="M371.27 232.95H372.48" stroke="#0e1e14"/>
<path d="M371.27 236.64H372.48" stroke="#0e1e14"/>
<path d="M370.21 240.34H378.75" stroke="#0e1e14"/>
<path d="M346.70 245.87H352.00" stroke="#3cb06c"/>
<path d="M351.10 244.03H368.30" stroke="#1c5e38"/>
<path d="M351.10 247.72H374.57" stroke="#1a64b0"/>
<path d="M345.60 261.33H349.80" stroke="#163a70"/>
<path d="M348.90 254.64H353.96" stroke="#1a4680"/>
<path d="M353.06 251.41H359.94" stroke="#1a4680"/>
<path d="M353.06 257.87H366.53" stroke="#1a4680"/>
<path d="M365.63 255.10H370.39" stroke="#1a60a8"/>
<path d="M365.63 260.64H373.39" stroke="#1a4680"/>
<path d="M372.49 258.79H376.66" stroke="#1a4680"/>
<path d="M372.49 262.48H378.75" stroke="#1a4680"/>
<path d="M348.90 268.02H358.90" stroke="#102a52"/>
<path d="M358.00 266.18H359.94" stroke="#102a52"/>
<path d="M358.00 269.87H366.21" stroke="#102a52"/>
<path d="M344.40 297.44H351.30" stroke="#3cb06c"/>
<path d="M350.40 287.17H357.50" stroke="#163a70"/>
<path d="M356.60 279.10H362.88" stroke="#0e1e14"/>
<path d="M361.98 275.40H368.25" stroke="#0e1e14"/>
<path d="M367.35 273.56H372.48" stroke="#0e1e14"/>
<path d="M367.35 277.25H378.75" stroke="#0e1e14"/>
<path d="M361.98 282.79H371.06" stroke="#0e1e14"/>
<path d="M370.16 280.94H372.48" stroke="#0e1e14"/>
<path d="M370.16 284.63H372.48" stroke="#0e1e14"/>
<path d="M356.60 295.25H364.31" stroke="#0e1e14"/>
<path d="M363.41 291.09H371.03" stroke="#0e1e14"/>
<path d="M370.13 288.33H378.75" stroke="#0e1e14"/>
<path d="M370.13 293.86H372.18" stroke="#0e1e14"/>
<path d="M371.28 292.02H372.48" stroke="#0e1e14"/>
<path d="M371.28 295.71H372.48" stroke="#0e1e14"/>
<path d="M363.41 299.40H378.75" stroke="#0e1e14"/>
<path d="M350.40 307.71H356.00" stroke="#1e4a86"/>
<path d="M355.10 304.94H361.11" stroke="#3cb06c"/>
<path d="M360.21 303.09H364.12" stroke="#3cb06c"/>
<path d="M360.21 306.78H366.21" stroke="#143260"/>
<path d="M355.10 310.47H372.48" stroke="#1a60a8"/>
<path d="M343.00 314.17H357.85" stroke="#555"/>
<path d="M306.30 317.86H332.77" stroke="#1a2a20"/>
<path d="M262.70 321.55H305.60" stroke="#1e4a86"/>
<path d="M249.70 557.56H290.20" stroke="#3cb06c"/>
<path d="M289.30 542.54H315.80" stroke="#3cb06c"/>
<path d="M314.90 516.21H322.30" stroke="#3cb06c"/>
<path d="M321.40 479.68H347.90" stroke="#3cb06c"/>
<path d="M347.00 468.00H366.70" stroke="#3cb06c"/>
<path d="M365.80 455.25H368.00" stroke="#3cb06c"/>
<path d="M367.10 441.29H369.00" stroke="#3cb06c"/>
<path d="M368.10 420.29H370.00" stroke="#3cb06c"/>
<path d="M369.10 398.59H371.00" stroke="#3cb06c"/>
<path d="M370.10 373.48H373.30" stroke="#3cb06c"/>
<path d="M372.40 361.73H375.10" stroke="#3cb06c"/>
<path d="M374.20 357.61H377.50" stroke="#3cb06c"/>
<path d="M376.60 353.07H380.30" stroke="#3cb06c"/>
<path d="M379.40 347.68H384.00" stroke="#3cb06c"/>
<path d="M383.10 342.43H386.40" stroke="#3cb06c"/>
<path d="M385.50 337.47H388.70" stroke="#3cb06c"/>
<path d="M387.80 333.08H391.50" stroke="#3cb06c"/>
<path d="M390.60 329.85H393.40" stroke="#0e1e14"/>
<path d="M392.50 327.09H396.09" stroke="#0e1e14"/>
<path d="M395.19 325.24H397.56" stroke="#0e1e14"/>
<path d="M395.19 328.93H397.56" stroke="#0e1e14"/>
<path d="M392.50 332.62H395.47" stroke="#3cb06c"/>
<path d="M390.60 336.31H399.65" stroke="#0e1e14"/>
<path d="M387.80 341.85H390.00" stroke="#3cb06c"/>
<path d="M389.10 340.01H397.56" stroke="#3cb06c"/>
<path d="M389.10 343.70H399.65" stroke="#0e1e14"/>
<path d="M385.50 347.39H391.29" stroke="#3cb06c"/>
<path d="M383.10 352.93H389.00" stroke="#2a9088"/>
<path d="M388.10 351.08H397.56" stroke="#2a9088"/>
<path d="M388.10 354.77H397.56" stroke="#3cb06c"/>
<path d="M379.40 358.46H391.29" stroke="#3cb06c"/>
<path d="M376.60 362.16H387.11" stroke="#3cb06c"/>
<path d="M374.20 365.85H380.84" stroke="#3cb06c"/>
<path d="M372.40 385.23H380.70" stroke="#3cb06c"/>
<path d="M379.80 379.69H385.00" stroke="#0e1e14"/>
<path d="M384.10 375.08H388.12" stroke="#0e1e14"/>
<path d="M387.22 371.38H390.56" stroke="#0e1e14"/>
<path d="M389.66 369.54H391.29" stroke="#0e1e14"/>
<path d="M389.66 373.23H391.29" stroke="#0e1e14"/>
<path d="M387.22 378.77H390.40" stroke="#0e1e14"/>
<path d="M389.50 376.92H391.29" stroke="#0e1e14"/>
<path d="M389.50 380.61H391.29" stroke="#0e1e14"/>
<path d="M384.10 384.30H387.11" stroke="#3cb06c"/>
<path d="M379.80 390.76H388.00" stroke="#3cb06c"/>
<path d="M387.10 388.00H393.38" stroke="#3cb06c"/>
<path d="M387.10 393.53H396.30" stroke="#3cb06c"/>
<path d="M395.40 391.69H397.56" stroke="#3cb06c"/>
<path d="M395.40 395.38H399.65" stroke="#3cb06c"/>
<path d="M370.10 423.70H379.60" stroke="#3cb06c"/>
<path d="M378.70 416.60H381.00" stroke="#3cb06c"/>
<path d="M380.10 410.14H383.00" stroke="#3cb06c"/>
<path d="M382.10 404.61H386.00" stroke="#3cb06c"/>
<path d="M385.10 400.92H389.00" stroke="#0e1e14"/>
<path d="M388.10 399.07H391.29" stroke="#0e1e14"/>
<path d="M388.10 402.76H391.29" stroke="#0e1e14"/>
<path d="M385.10 408.30H388.00" stroke="#3cb06c"/>
<path d="M387.10 406.45H391.29" stroke="#3cb06c"/>
<path d="M387.10 410.14H391.29" stroke="#3cb06c"/>
<path d="M382.10 415.68H378.45" stroke="#3cb06c"/>
<path d="M377.55 413.84H389.20" stroke="#3cb06c"/>
<path d="M377.55 417.53H378.75" stroke="#3cb06c"/>
<path d="M380.10 423.06H380.54" stroke="#3cb06c"/>
<path d="M379.64 421.22H387.11" stroke="#3cb06c"/>
<path d="M379.64 424.91H380.84" stroke="#3cb06c"/>
<path d="M378.70 430.45H378.45" stroke="#1a1a1a"/>
<path d="M377.55 428.60H378.75" stroke="#0e1e14"/>
<path d="M377.55 432.29H378.75" stroke="#0e1e14"/>
<path d="M369.10 441.98H373.70" stroke="#3cb06c"/>
<path d="M372.80 437.83H377.76" stroke="#1c5e38"/>
<path d="M376.86 435.99H378.75" stroke="#1c5e38"/>
<path d="M376.86 439.68H378.75" stroke="#1a4680"/>
<path d="M372.80 446.14H376.74" stroke="#1a4680"/>
<path d="M375.84 443.37H378.75" stroke="#1a4680"/>
<path d="M375.84 448.91H378.43" stroke="#1a68b8"/>
<path d="M377.53 447.06H380.84" stroke="#1a68b8"/>
<path d="M377.53 450.75H378.75" stroke="#1e6cc0"/>
<path d="M368.10 462.29H374.27" stroke="#3cb06c"/>
<path d="M373.37 459.06H380.24" stroke="#3cb06c"/>
<path d="M379.34 456.29H388.10" stroke="#3cb06c"/>
<path d="M387.20 454.44H389.20" stroke="#3cb06c"/>
<path d="M387.20 458.13H389.20" stroke="#3cb06c"/>
<path d="M379.34 461.83H385.02" stroke="#1a60a8"/>
<path d="M373.37 465.52H374.57" stroke="#3cb06c"/>
<path d="M367.10 469.21H387.11" stroke="#3cb06c"/>
<path d="M365.80 480.74H378.60" stroke="#3cb06c"/>
<path d="M377.70 475.67H384.00" stroke="#3cb06c"/>
<path d="M383.10 472.90H387.11" stroke="#3cb06c"/>
<path d="M383.10 478.44H387.10" stroke="#1a60a8"/>
<path d="M386.20 476.59H389.20" stroke="#1a60a8"/>
<path d="M386.20 480.28H389.20" stroke="#1a68b8"/>
<path d="M377.70 485.82H381.68" stroke="#3cb06c"/>
<path d="M380.78 483.97H382.93" stroke="#3cb06c"/>
<path d="M380.78 487.67H389.20" stroke="#3cb06c"/>
<path d="M347.00 491.36H391.29" stroke="#d9621f"/>
<path d="M321.40 552.74H327.40" stroke="#3cb06c"/>
<path d="M326.50 545.83H333.90" stroke="#1e4a86"/>
<path d="M333.00 541.23H353.10" stroke="#1e4a86"/>
<path d="M352.20 535.73H354.60" stroke="#1e4a86"/>
<path d="M353.70 528.42H356.20" stroke="#1e4a86"/>
<path d="M355.30 519.33H364.60" stroke="#1e4a86"/>
<path d="M363.70 512.24H365.40" stroke="#1e4a86"/>
<path d="M364.50 507.28H368.00" stroke="#1e4a86"/>
<path d="M367.10 502.89H369.80" stroke="#1e4a86"/>
<path d="M368.90 499.66H371.50" stroke="#1e4a86"/>
<path d="M370.60 496.89H373.30" stroke="#1e4a86"/>
<path d="M372.40 495.05H378.75" stroke="#1a4680"/>
<path d="M372.40 498.74H376.66" stroke="#1a4680"/>
<path d="M370.60 502.43H374.57" stroke="#1a4680"/>
<path d="M368.90 506.12H372.48" stroke="#1a4680"/>
<path d="M367.10 511.66H370.50" stroke="#1a4680"/>
<path d="M369.60 509.82H374.57" stroke="#1a4680"/>
<path d="M369.60 513.51H374.57" stroke="#1a4680"/>
<path d="M364.50 517.20H370.39" stroke="#1a4680"/>
<path d="M363.70 526.43H368.50" stroke="#1e4a86"/>
<path d="M367.60 522.74H378.00" stroke="#1a4680"/>
<path d="M377.10 520.89H380.84" stroke="#1a4680"/>
<path d="M377.10 524.58H382.93" stroke="#1a4680"/>
<path d="M367.60 530.12H368.00" stroke="#1a4680"/>
<path d="M367.10 528.27H372.48" stroke="#1a4680"/>
<path d="M367.10 531.96H368.30" stroke="#1a4680"/>
<path d="M355.30 537.50H357.50" stroke="#1a4680"/>
<path d="M356.60 535.66H359.94" stroke="#1a4680"/>
<path d="M356.60 539.35H359.94" stroke="#102a52"/>
<path d="M353.70 543.04H359.94" stroke="#1a68b8"/>
<path d="M352.20 546.73H359.94" stroke="#1a68b8"/>
<path d="M333.00 550.42H385.02" stroke="#3cb06c"/>
<path d="M326.50 559.65H336.40" stroke="#3cb06c"/>
<path d="M335.50 555.96H339.00" stroke="#123a22"/>
<path d="M338.10 554.11H349.49" stroke="#123a22"/>
<path d="M338.10 557.80H347.40" stroke="#123a22"/>
<path d="M335.50 563.34H340.50" stroke="#226a40"/>
<path d="M339.60 561.50H351.58" stroke="#226a40"/>
<path d="M339.60 565.19H345.31" stroke="#226a40"/>
<path d="M314.90 568.88H357.85" stroke="#2a9088"/>
<path d="M289.30 572.57H345.31" stroke="#1e4a86"/>
<path d="M197.80 584.11H224.20" stroke="#8e1a40"/>
<path d="M223.30 580.88H242.30" stroke="#1e4a86"/>
<path d="M241.40 578.11H267.20" stroke="#8e1a40"/>
<path d="M266.30 576.26H370.39" stroke="#143260"/>
<path d="M266.30 579.95H267.98" stroke="#6a0e2a"/>
<path d="M241.40 583.65H320.23" stroke="#1a4680"/>
<path d="M223.30 587.34H313.96" stroke="#8e1a40"/>
<path d="M144.30 899.43H227.20" stroke="#8e1a40"/>
<path d="M226.30 870.98H257.50" stroke="#8e1a40"/>
<path d="M256.60 842.30H264.60" stroke="#1e4a86"/>
<path d="M263.70 835.17H324.60" stroke="#8e1a40"/>
<path d="M323.70 824.60H326.25" stroke="#1e4a86"/>
<path d="M325.35 812.50H332.50" stroke="#1e4a86"/>
<path d="M331.60 791.30H335.00" stroke="#1e4a86"/>
<path d="M334.10 773.70H339.60" stroke="#1e4a86"/>
<path d="M338.70 745.70H346.90" stroke="#1e4a86"/>
<path d="M346.00 703.40H349.70" stroke="#1e4a86"/>
<path d="M348.80 679.80H366.30" stroke="#1e4a86"/>
<path d="M365.40 661.30H371.30" stroke="#1e4a86"/>
<path d="M370.40 640.00H373.80" stroke="#1e4a86"/>
<path d="M372.90 615.25H374.60" stroke="#1e4a86"/>
<path d="M373.70 603.72H376.50" stroke="#1a4680"/>
<path d="M375.60 597.95H380.94" stroke="#1a60a8"/>
<path d="M380.04 592.87H385.53" stroke="#1a60a8"/>
<path d="M384.63 591.03H387.11" stroke="#1a60a8"/>
<path d="M384.63 594.72H387.11" stroke="#1a64b0"/>
<path d="M380.04 603.03H385.54" stroke="#1a4680"/>
<path d="M384.64 600.26H386.68" stroke="#1a4680"/>
<path d="M385.78 598.41H387.11" stroke="#1a4680"/>
<path d="M385.78 602.10H387.11" stroke="#6a1a5a"/>
<path d="M384.64 605.79H387.11" stroke="#102c5e"/>
<path d="M375.60 609.49H380.84" stroke="#1a4680"/>
<path d="M373.70 626.79H376.00" stroke="#1a4680"/>
<path d="M375.10 621.94H382.16" stroke="#1a4680"/>
<path d="M381.26 617.79H386.09" stroke="#1a4680"/>
<path d="M385.19 615.02H386.81" stroke="#1a4680"/>
<path d="M385.91 613.18H387.11" stroke="#1a4680"/>
<path d="M385.91 616.87H389.20" stroke="#1a60a8"/>
<path d="M385.19 620.56H387.11" stroke="#1a64b0"/>
<path d="M381.26 626.10H386.37" stroke="#1a4680"/>
<path d="M385.47 624.25H391.29" stroke="#1a4680"/>
<path d="M385.47 627.94H389.20" stroke="#143670"/>
<path d="M375.10 631.63H380.84" stroke="#1a64b0"/>
<path d="M372.90 643.17H375.50" stroke="#1a4680"/>
<path d="M374.60 638.09H379.90" stroke="#1a4680"/>
<path d="M379.00 635.33H380.84" stroke="#1a4680"/>
<path d="M379.00 640.86H380.54" stroke="#1a60a8"/>
<path d="M379.64 639.02H382.93" stroke="#1a60a8"/>
<path d="M379.64 642.71H380.84" stroke="#1a64b0"/>
<path d="M374.60 648.25H378.39" stroke="#1a64b0"/>
<path d="M377.49 646.40H378.75" stroke="#1a64b0"/>
<path d="M377.49 650.09H378.75" stroke="#1a4680"/>
<path d="M370.40 682.50H375.00" stroke="#1e4a86"/>
<path d="M374.10 663.94H377.00" stroke="#1a4680"/>
<path d="M376.10 659.32H383.90" stroke="#1a4680"/>
<path d="M383.00 655.63H387.18" stroke="#1a64b0"/>
<path d="M386.28 653.78H389.20" stroke="#1a64b0"/>
<path d="M386.28 657.48H389.20" stroke="#1a4680"/>
<path d="M383.00 663.01H385.69" stroke="#1a4680"/>
<path d="M384.79 661.17H391.29" stroke="#1a4680"/>
<path d="M384.79 664.86H387.11" stroke="#1a68b8"/>
<path d="M376.10 668.55H380.84" stroke="#1a4680"/>
<path d="M374.10 677.72H376.00" stroke="#1a4680"/>
<path d="M375.10 672.24H378.75" stroke="#1a4680"/>
<path d="M375.10 683.20H379.60" stroke="#1a4680"/>
<path d="M378.70 675.93H389.20" stroke="#1a4680"/>
<path d="M378.70 690.47H380.42" stroke="#1a4680"/>
<path d="M379.52 686.55H380.54" stroke="#1a4680"/>
<path d="M379.64 682.39H380.54" stroke="#1a4680"/>
<path d="M379.64 679.62H380.84" stroke="#1a4680"/>
<path d="M379.64 685.16H380.54" stroke="#1a4680"/>
<path d="M379.64 683.32H380.84" stroke="#1a4680"/>
<path d="M379.64 687.01H380.84" stroke="#1a4680"/>
<path d="M379.64 690.70H380.84" stroke="#1e6cc0"/>
<path d="M379.52 694.39H382.93" stroke="#1e6cc0"/>
<path d="M365.40 698.08H378.75" stroke="#1a68b8"/>
<path d="M348.80 703.62H350.50" stroke="#1a4680"/>
<path d="M349.60 701.77H351.58" stroke="#1a4680"/>
<path d="M349.60 705.46H351.58" stroke="#2a6aa0"/>
<path d="M348.80 709.16H364.12" stroke="#1a64b0"/>
<path d="M346.00 788.20H347.40" stroke="#1e4a86"/>
<path d="M346.50 782.20H357.20" stroke="#1e4a86"/>
<path d="M356.30 773.40H359.50" stroke="#1e4a86"/>
<path d="M358.60 753.70H361.90" stroke="#1e4a86"/>
<path d="M361.00 739.38H365.10" stroke="#1e4a86"/>
<path d="M364.20 730.84H367.50" stroke="#1e4a86"/>
<path d="M366.60 723.92H369.80" stroke="#1e4a86"/>
<path d="M368.90 718.38H371.70" stroke="#1e4a86"/>
<path d="M370.80 714.69H377.30" stroke="#1a60a8"/>
<path d="M376.40 712.85H380.84" stroke="#1a60a8"/>
<path d="M376.40 716.54H389.20" stroke="#1a64b0"/>
<path d="M370.80 722.08H374.00" stroke="#1a64b0"/>
<path d="M373.10 720.23H376.66" stroke="#1a64b0"/>
<path d="M373.10 723.92H382.93" stroke="#1a64b0"/>
<path d="M368.90 729.46H372.00" stroke="#1a60a8"/>
<path d="M371.10 727.61H376.66" stroke="#1a60a8"/>
<path d="M371.10 731.31H378.75" stroke="#1a60a8"/>
<path d="M366.60 737.77H370.00" stroke="#1a64b0"/>
<path d="M369.10 735.00H374.57" stroke="#1e6cc0"/>
<path d="M369.10 740.53H370.09" stroke="#1a64b0"/>
<path d="M369.19 738.69H370.39" stroke="#1a64b0"/>
<path d="M369.19 742.38H372.48" stroke="#1a64b0"/>
<path d="M364.20 747.92H367.00" stroke="#1a60a8"/>
<path d="M366.10 746.07H370.39" stroke="#1a60a8"/>
<path d="M366.10 749.76H374.57" stroke="#1a68b8"/>
<path d="M361.00 759.45H363.00" stroke="#1a60a8"/>
<path d="M362.10 755.30H368.58" stroke="#1a60a8"/>
<path d="M367.68 753.45H374.57" stroke="#1a60a8"/>
<path d="M367.68 757.15H372.48" stroke="#1a4680"/>
<path d="M362.10 763.61H366.29" stroke="#1a4680"/>
<path d="M365.39 760.84H368.30" stroke="#1a4680"/>
<path d="M365.39 766.37H367.60" stroke="#1a60a8"/>
<path d="M366.70 764.53H368.30" stroke="#1a60a8"/>
<path d="M366.70 768.22H368.30" stroke="#1a64b0"/>
<path d="M358.60 778.83H363.00" stroke="#1e4a86"/>
<path d="M362.10 773.76H365.91" stroke="#1a60a8"/>
<path d="M365.01 771.91H370.39" stroke="#1a60a8"/>
<path d="M365.01 775.60H366.21" stroke="#1a60a8"/>
<path d="M362.10 783.91H368.00" stroke="#6a1a5a"/>
<path d="M367.10 781.14H372.81" stroke="#6a1a5a"/>
<path d="M371.91 779.29H376.66" stroke="#6a1a5a"/>
<path d="M371.91 782.99H387.11" stroke="#184a2c"/>
<path d="M367.10 786.68H368.30" stroke="#1a4680"/>
<path d="M356.30 790.37H359.94" stroke="#1a4680"/>
<path d="M346.50 794.06H351.58" stroke="#1a4e8e"/>
<path d="M338.70 800.52H346.70" stroke="#6a1a5a"/>
<path d="M345.80 797.75H349.49" stroke="#6a1a5a"/>
<path d="M345.80 803.29H349.15" stroke="#6a1a5a"/>
<path d="M348.25 801.44H353.67" stroke="#6a1a5a"/>
<path d="M348.25 805.14H349.49" stroke="#6a1a5a"/>
<path d="M334.10 808.83H345.31" stroke="#1a4e8e"/>
<path d="M331.60 818.06H333.50" stroke="#1e4a86"/>
<path d="M332.60 814.36H338.00" stroke="#1a4e8e"/>
<path d="M337.10 812.52H341.13" stroke="#1a4e8e"/>
<path d="M337.10 816.21H343.22" stroke="#1a4e8e"/>
<path d="M332.60 821.75H339.60" stroke="#1a4e8e"/>
<path d="M338.70 819.90H341.13" stroke="#1a4e8e"/>
<path d="M338.70 823.59H343.22" stroke="#1a4e8e"/>
<path d="M325.35 836.51H345.00" stroke="#1a4e8e"/>
<path d="M344.10 834.67H349.49" stroke="#1a4e8e"/>
<path d="M344.10 838.36H353.67" stroke="#1a4680"/>
<path d="M323.70 835.59H330.00" stroke="#1e4a86"/>
<path d="M329.10 829.13H339.20" stroke="#6a1a5a"/>
<path d="M338.30 827.28H351.58" stroke="#6a1a5a"/>
<path d="M338.30 830.98H345.31" stroke="#1a4e8e"/>
<path d="M329.10 842.05H336.95" stroke="#8e1a40"/>
<path d="M323.70 845.74H341.13" stroke="#8e1a40"/>
<path d="M263.70 849.43H272.16" stroke="#1e4a86"/>
<path d="M256.60 899.66H279.60" stroke="#8e1a40"/>
<path d="M278.70 887.82H288.00" stroke="#8e1a40"/>
<path d="M287.10 881.91H293.00" stroke="#8e1a40"/>
<path d="M292.10 873.77H294.20" stroke="#1e4a86"/>
<path d="M293.30 866.74H315.30" stroke="#1e4a86"/>
<path d="M314.40 861.89H318.40" stroke="#1e4a86"/>
<path d="M317.50 857.74H325.20" stroke="#1e4a86"/>
<path d="M324.30 854.97H335.80" stroke="#2a9088"/>
<path d="M334.90 853.12H357.85" stroke="#2a9088"/>
<path d="M334.90 856.82H341.13" stroke="#1a5496"/>
<path d="M324.30 860.51H334.86" stroke="#1a4680"/>
<path d="M317.50 866.05H320.00" stroke="#1a4680"/>
<path d="M319.10 864.20H322.32" stroke="#1a4680"/>
<path d="M319.10 867.89H322.32" stroke="#1a4680"/>
<path d="M314.40 871.58H339.04" stroke="#1a60a8"/>
<path d="M293.30 880.81H305.40" stroke="#8e1a40"/>
<path d="M304.50 877.12H308.89" stroke="#6a0e2a"/>
<path d="M307.99 875.27H309.78" stroke="#6a0e2a"/>
<path d="M307.99 878.97H309.78" stroke="#6a0e2a"/>
<path d="M304.50 884.50H309.75" stroke="#2a6aa0"/>
<path d="M308.85 882.66H311.87" stroke="#2a6aa0"/>
<path d="M308.85 886.35H311.87" stroke="#2a6aa0"/>
<path d="M292.10 890.04H305.60" stroke="#6a0e2a"/>
<path d="M287.10 893.73H309.78" stroke="#3cb06c"/>
<path d="M278.70 911.50H306.60" stroke="#8e1a40"/>
<path d="M305.70 905.27H311.40" stroke="#1e4a86"/>
<path d="M310.50 900.19H320.60" stroke="#8e1a40"/>
<path d="M319.70 897.42H330.68" stroke="#1a60a8"/>
<path d="M319.70 902.96H327.05" stroke="#1a4e8e"/>
<path d="M326.15 901.11H330.68" stroke="#1a4e8e"/>
<path d="M326.15 904.81H330.68" stroke="#6a0e2a"/>
<path d="M310.50 910.34H332.40" stroke="#1a4e8e"/>
<path d="M331.50 908.50H334.86" stroke="#1a4e8e"/>
<path d="M331.50 912.19H336.95" stroke="#1a4e8e"/>
<path d="M305.70 917.73H309.20" stroke="#8e1a40"/>
<path d="M308.30 915.88H316.05" stroke="#1a60a8"/>
<path d="M308.30 919.57H320.23" stroke="#6a0e2a"/>
<path d="M226.30 927.88H265.70" stroke="#8e1a40"/>
<path d="M264.80 925.11H282.10" stroke="#c02a58"/>
<path d="M281.20 923.26H324.41" stroke="#92183c"/>
<path d="M281.20 926.95H307.69" stroke="#ee2a62"/>
<path d="M264.80 930.65H336.95" stroke="#92183c"/>
</g>
<g fill="none" stroke-width="1.8">
<path d="M145.20 503.43V701.93" stroke="#8e1a40"/>
<path d="M198.70 422.76V503.93" stroke="#3cb06c"/>
<path d="M250.60 287.97V423.26" stroke="#3cb06c"/>
<path d="M263.60 254.39V288.47" stroke="#3cb06c"/>
<path d="M273.20 203.03V254.89" stroke="#3cb06c"/>
<path d="M285.30 195.25V203.53" stroke="#1e4a86"/>
<path d="M292.10 183.39V195.75" stroke="#3cb06c"/>
<path d="M296.00 171.20V183.89" stroke="#3cb06c"/>
<path d="M298.60 153.75V171.70" stroke="#3cb06c"/>
<path d="M300.70 125.60V154.25" stroke="#3cb06c"/>
<path d="M302.50 99.60V126.10" stroke="#3cb06c"/>
<path d="M303.30 91.30V100.10" stroke="#3cb06c"/>
<path d="M305.00 88.90V91.80" stroke="#3cb06c"/>
<path d="M308.90 83.20V89.40" stroke="#3cb06c"/>
<path d="M312.10 77.23V83.70" stroke="#3cb06c"/>
<path d="M338.50 69.17V77.73" stroke="#1a1a30"/>
<path d="M340.80 59.51V69.67" stroke="#163a70"/>
<path d="M346.20 50.34V60.01" stroke="#163a70"/>
<path d="M346.50 40.30V50.84" stroke="#163a70"/>
<path d="M346.80 31.30V40.80" stroke="#163a70"/>
<path d="M351.00 23.46V31.80" stroke="#163a70"/>
<path d="M361.80 18.85V23.96" stroke="#102c5e"/>
<path d="M361.80 22.96V28.07" stroke="#102c5e"/>
<path d="M362.80 24.38V28.57" stroke="#102c5e"/>
<path d="M365.32 22.54V24.88" stroke="#102c5e"/>
<path d="M365.32 23.88V26.23" stroke="#102c5e"/>
<path d="M362.80 27.57V31.77" stroke="#102c5e"/>
<path d="M365.28 29.92V32.27" stroke="#102c5e"/>
<path d="M365.28 31.27V33.61" stroke="#102c5e"/>
<path d="M351.00 30.80V39.15" stroke="#163a70"/>
<path d="M358.40 37.30V39.65" stroke="#102c5e"/>
<path d="M358.40 38.65V40.99" stroke="#102c5e"/>
<path d="M346.80 39.80V49.30" stroke="#163a70"/>
<path d="M348.50 46.53V49.80" stroke="#1a5496"/>
<path d="M352.84 44.69V47.03" stroke="#1a5496"/>
<path d="M352.84 46.03V48.38" stroke="#1a5496"/>
<path d="M348.50 48.80V52.07" stroke="#1a5496"/>
<path d="M346.50 49.84V60.38" stroke="#163a70"/>
<path d="M348.00 57.61V60.88" stroke="#102c5e"/>
<path d="M352.26 55.76V58.11" stroke="#102c5e"/>
<path d="M352.26 57.11V59.45" stroke="#102c5e"/>
<path d="M348.00 59.88V63.14" stroke="#102c5e"/>
<path d="M346.20 59.01V68.68" stroke="#163a70"/>
<path d="M347.50 66.84V69.18" stroke="#102c5e"/>
<path d="M347.50 68.18V70.53" stroke="#102a52"/>
<path d="M340.80 68.67V78.83" stroke="#2a2a2a"/>
<path d="M355.00 76.06V79.33" stroke="#0e1e14"/>
<path d="M362.00 74.22V76.56" stroke="#0e1e14"/>
<path d="M362.00 75.56V77.91" stroke="#0e1e14"/>
<path d="M355.00 78.33V81.60" stroke="#0e1e14"/>
<path d="M338.50 76.73V85.29" stroke="#3cb06c"/>
<path d="M312.10 82.70V88.98" stroke="#3cb06c"/>
<path d="M308.90 88.40V94.60" stroke="#3cb06c"/>
<path d="M314.50 94.52V95.10" stroke="#38a866"/>
<path d="M334.00 92.68V95.02" stroke="#38a866"/>
<path d="M334.00 94.02V96.37" stroke="#38a866"/>
<path d="M303.30 99.10V105.50" stroke="#1e4a86"/>
<path d="M306.50 101.90V106.00" stroke="#38a866"/>
<path d="M309.00 100.06V102.40" stroke="#38a866"/>
<path d="M309.00 101.40V103.75" stroke="#38a866"/>
<path d="M306.50 105.00V107.44" stroke="#102c5e"/>
<path d="M302.50 125.10V151.60" stroke="#3cb06c"/>
<path d="M304.00 132.70V152.10" stroke="#1e4a86"/>
<path d="M309.60 118.90V133.20" stroke="#1e4a86"/>
<path d="M310.10 118.05V119.40" stroke="#102c5e"/>
<path d="M340.80 113.90V118.55" stroke="#102c5e"/>
<path d="M346.13 111.13V114.40" stroke="#102c5e"/>
<path d="M346.13 113.40V116.67" stroke="#102c5e"/>
<path d="M348.62 114.82V117.17" stroke="#102c5e"/>
<path d="M348.62 116.17V118.52" stroke="#102c5e"/>
<path d="M340.80 117.55V122.21" stroke="#102c5e"/>
<path d="M309.60 132.20V137.67" stroke="#1e4a86"/>
<path d="M309.80 130.51V138.17" stroke="#2a6aa0"/>
<path d="M311.16 127.75V131.01" stroke="#2a6aa0"/>
<path d="M311.57 125.90V128.25" stroke="#2a6aa0"/>
<path d="M311.57 127.25V129.59" stroke="#2a6aa0"/>
<path d="M311.16 130.01V133.28" stroke="#102c5e"/>
<path d="M309.80 137.17V144.82" stroke="#2a80d0"/>
<path d="M311.25 141.59V145.32" stroke="#2a80d0"/>
<path d="M311.57 138.82V142.09" stroke="#2a80d0"/>
<path d="M311.57 136.97V139.32" stroke="#2a80d0"/>
<path d="M311.57 138.32V140.67" stroke="#143260"/>
<path d="M311.57 141.09V144.36" stroke="#0c2448"/>
<path d="M311.25 144.32V148.05" stroke="#163e78"/>
<path d="M304.00 151.10V157.28" stroke="#3cb06c"/>
<path d="M315.80 153.59V157.78" stroke="#38a866"/>
<path d="M325.95 151.74V154.09" stroke="#38a866"/>
<path d="M325.95 153.09V155.43" stroke="#38a866"/>
<path d="M315.80 156.78V160.97" stroke="#38a866"/>
<path d="M333.78 159.12V161.47" stroke="#38a866"/>
<path d="M333.78 160.47V162.81" stroke="#38a866"/>
<path d="M300.70 153.25V172.74" stroke="#3cb06c"/>
<path d="M302.80 166.51V173.24" stroke="#38a866"/>
<path d="M302.80 172.24V178.96" stroke="#38a866"/>
<path d="M307.05 174.81V179.46" stroke="#2c8050"/>
<path d="M308.57 172.04V175.31" stroke="#2c8050"/>
<path d="M310.45 170.20V172.54" stroke="#2c8050"/>
<path d="M310.45 171.54V173.89" stroke="#2c8050"/>
<path d="M308.57 174.31V177.58" stroke="#38a866"/>
<path d="M307.05 178.46V183.12" stroke="#38a866"/>
<path d="M316.77 181.27V183.62" stroke="#38a866"/>
<path d="M316.77 182.62V184.96" stroke="#38a866"/>
<path d="M298.60 170.70V188.65" stroke="#6a0e2a"/>
<path d="M296.00 182.89V195.58" stroke="#1e4a86"/>
<path d="M299.20 192.35V196.08" stroke="#1a4680"/>
<path d="M299.20 195.08V198.81" stroke="#38a866"/>
<path d="M306.49 196.04V199.31" stroke="#38a866"/>
<path d="M306.49 198.31V201.57" stroke="#2a7ccc"/>
<path d="M307.33 199.73V202.07" stroke="#2a7ccc"/>
<path d="M307.33 201.07V203.42" stroke="#38a866"/>
<path d="M292.10 194.75V207.11" stroke="#3cb06c"/>
<path d="M285.30 202.53V210.80" stroke="#102c5e"/>
<path d="M273.20 253.89V305.75" stroke="#3cb06c"/>
<path d="M307.20 293.65V306.25" stroke="#3cb06c"/>
<path d="M343.90 273.13V294.15" stroke="#3cb06c"/>
<path d="M345.30 248.81V273.63" stroke="#3cb06c"/>
<path d="M346.50 236.30V249.31" stroke="#3cb06c"/>
<path d="M347.60 226.72V236.80" stroke="#3cb06c"/>
<path d="M351.30 220.03V227.22" stroke="#0e1e14"/>
<path d="M362.48 216.34V220.53" stroke="#0e1e14"/>
<path d="M368.40 214.50V216.84" stroke="#0e1e14"/>
<path d="M368.40 215.84V218.19" stroke="#0e1e14"/>
<path d="M362.48 219.53V223.72" stroke="#0e1e14"/>
<path d="M368.26 221.88V224.22" stroke="#0e1e14"/>
<path d="M368.26 223.22V225.57" stroke="#0e1e14"/>
<path d="M351.30 226.22V233.41" stroke="#0e1e14"/>
<path d="M364.44 229.26V233.91" stroke="#1a60a8"/>
<path d="M364.44 232.91V237.57" stroke="#0e1e14"/>
<path d="M371.11 234.80V238.07" stroke="#0e1e14"/>
<path d="M372.17 232.95V235.30" stroke="#0e1e14"/>
<path d="M372.17 234.30V236.64" stroke="#0e1e14"/>
<path d="M371.11 237.07V240.34" stroke="#0e1e14"/>
<path d="M347.60 235.80V245.87" stroke="#3cb06c"/>
<path d="M352.00 244.03V246.37" stroke="#1c5e38"/>
<path d="M352.00 245.37V247.72" stroke="#1a64b0"/>
<path d="M346.50 248.31V261.33" stroke="#163a70"/>
<path d="M349.80 254.64V261.83" stroke="#1a4680"/>
<path d="M353.96 251.41V255.14" stroke="#1a4680"/>
<path d="M353.96 254.14V257.87" stroke="#1a4680"/>
<path d="M366.53 255.10V258.37" stroke="#1a60a8"/>
<path d="M366.53 257.37V260.64" stroke="#1a4680"/>
<path d="M373.39 258.79V261.14" stroke="#1a4680"/>
<path d="M373.39 260.14V262.48" stroke="#1a4680"/>
<path d="M349.80 260.83V268.02" stroke="#102a52"/>
<path d="M358.90 266.18V268.52" stroke="#102a52"/>
<path d="M358.90 267.52V269.87" stroke="#102a52"/>
<path d="M345.30 272.63V297.44" stroke="#3cb06c"/>
<path d="M351.30 287.17V297.94" stroke="#163a70"/>
<path d="M357.50 279.10V287.67" stroke="#0e1e14"/>
<path d="M362.88 275.40V279.60" stroke="#0e1e14"/>
<path d="M368.25 273.56V275.90" stroke="#0e1e14"/>
<path d="M368.25 274.90V277.25" stroke="#0e1e14"/>
<path d="M362.88 278.60V282.79" stroke="#0e1e14"/>
<path d="M371.06 280.94V283.29" stroke="#0e1e14"/>
<path d="M371.06 282.29V284.63" stroke="#0e1e14"/>
<path d="M357.50 286.67V295.25" stroke="#0e1e14"/>
<path d="M364.31 291.09V295.75" stroke="#0e1e14"/>
<path d="M371.03 288.33V291.59" stroke="#0e1e14"/>
<path d="M371.03 290.59V293.86" stroke="#0e1e14"/>
<path d="M372.18 292.02V294.36" stroke="#0e1e14"/>
<path d="M372.18 293.36V295.71" stroke="#0e1e14"/>
<path d="M364.31 294.75V299.40" stroke="#0e1e14"/>
<path d="M351.30 296.94V307.71" stroke="#1e4a86"/>
<path d="M356.00 304.94V308.21" stroke="#3cb06c"/>
<path d="M361.11 303.09V305.44" stroke="#3cb06c"/>
<path d="M361.11 304.44V306.78" stroke="#143260"/>
<path d="M356.00 307.21V310.47" stroke="#1a60a8"/>
<path d="M343.90 293.15V314.17" stroke="#555"/>
<path d="M307.20 305.25V317.86" stroke="#1a2a20"/>
<path d="M263.60 287.47V321.55" stroke="#1e4a86"/>
<path d="M250.60 422.26V557.56" stroke="#3cb06c"/>
<path d="M290.20 542.54V558.06" stroke="#3cb06c"/>
<path d="M315.80 516.21V543.04" stroke="#3cb06c"/>
<path d="M322.30 479.68V516.71" stroke="#3cb06c"/>
<path d="M347.90 468.00V480.18" stroke="#3cb06c"/>
<path d="M366.70 455.25V468.50" stroke="#3cb06c"/>
<path d="M368.00 441.29V455.75" stroke="#3cb06c"/>
<path d="M369.00 420.29V441.79" stroke="#3cb06c"/>
<path d="M370.00 398.59V420.79" stroke="#3cb06c"/>
<path d="M371.00 373.48V399.09" stroke="#3cb06c"/>
<path d="M373.30 361.73V373.98" stroke="#3cb06c"/>
<path d="M375.10 357.61V362.23" stroke="#3cb06c"/>
<path d="M377.50 353.07V358.11" stroke="#3cb06c"/>
<path d="M380.30 347.68V353.57" stroke="#3cb06c"/>
<path d="M384.00 342.43V348.18" stroke="#3cb06c"/>
<path d="M386.40 337.47V342.93" stroke="#3cb06c"/>
<path d="M388.70 333.08V337.97" stroke="#3cb06c"/>
<path d="M391.50 329.85V333.58" stroke="#0e1e14"/>
<path d="M393.40 327.09V330.35" stroke="#0e1e14"/>
<path d="M396.09 325.24V327.59" stroke="#0e1e14"/>
<path d="M396.09 326.59V328.93" stroke="#0e1e14"/>
<path d="M393.40 329.35V332.62" stroke="#3cb06c"/>
<path d="M391.50 332.58V336.31" stroke="#0e1e14"/>
<path d="M388.70 336.97V341.85" stroke="#3cb06c"/>
<path d="M390.00 340.01V342.35" stroke="#3cb06c"/>
<path d="M390.00 341.35V343.70" stroke="#0e1e14"/>
<path d="M386.40 341.93V347.39" stroke="#3cb06c"/>
<path d="M384.00 347.18V352.93" stroke="#2a9088"/>
<path d="M389.00 351.08V353.43" stroke="#2a9088"/>
<path d="M389.00 352.43V354.77" stroke="#3cb06c"/>
<path d="M380.30 352.57V358.46" stroke="#3cb06c"/>
<path d="M377.50 357.11V362.16" stroke="#3cb06c"/>
<path d="M375.10 361.23V365.85" stroke="#3cb06c"/>
<path d="M373.30 372.98V385.23" stroke="#3cb06c"/>
<path d="M380.70 379.69V385.73" stroke="#0e1e14"/>
<path d="M385.00 375.08V380.19" stroke="#0e1e14"/>
<path d="M388.12 371.38V375.58" stroke="#0e1e14"/>
<path d="M390.56 369.54V371.88" stroke="#0e1e14"/>
<path d="M390.56 370.88V373.23" stroke="#0e1e14"/>
<path d="M388.12 374.58V378.77" stroke="#0e1e14"/>
<path d="M390.40 376.92V379.27" stroke="#0e1e14"/>
<path d="M390.40 378.27V380.61" stroke="#0e1e14"/>
<path d="M385.00 379.19V384.30" stroke="#3cb06c"/>
<path d="M380.70 384.73V390.76" stroke="#3cb06c"/>
<path d="M388.00 388.00V391.26" stroke="#3cb06c"/>
<path d="M388.00 390.26V393.53" stroke="#3cb06c"/>
<path d="M396.30 391.69V394.03" stroke="#3cb06c"/>
<path d="M396.30 393.03V395.38" stroke="#3cb06c"/>
<path d="M371.00 398.09V423.70" stroke="#3cb06c"/>
<path d="M379.60 416.60V424.20" stroke="#3cb06c"/>
<path d="M381.00 410.14V417.10" stroke="#3cb06c"/>
<path d="M383.00 404.61V410.64" stroke="#3cb06c"/>
<path d="M386.00 400.92V405.11" stroke="#0e1e14"/>
<path d="M389.00 399.07V401.42" stroke="#0e1e14"/>
<path d="M389.00 400.42V402.76" stroke="#0e1e14"/>
<path d="M386.00 404.11V408.30" stroke="#3cb06c"/>
<path d="M388.00 406.45V408.80" stroke="#3cb06c"/>
<path d="M388.00 407.80V410.14" stroke="#3cb06c"/>
<path d="M383.00 409.64V415.68" stroke="#3cb06c"/>
<path d="M378.45 413.84V416.18" stroke="#3cb06c"/>
<path d="M378.45 415.18V417.53" stroke="#3cb06c"/>
<path d="M381.00 416.10V423.06" stroke="#3cb06c"/>
<path d="M380.54 421.22V423.56" stroke="#3cb06c"/>
<path d="M380.54 422.56V424.91" stroke="#3cb06c"/>
<path d="M379.60 423.20V430.45" stroke="#1a1a1a"/>
<path d="M378.45 428.60V430.95" stroke="#0e1e14"/>
<path d="M378.45 429.95V432.29" stroke="#0e1e14"/>
<path d="M370.00 419.79V441.98" stroke="#3cb06c"/>
<path d="M373.70 437.83V442.48" stroke="#1c5e38"/>
<path d="M377.76 435.99V438.33" stroke="#1c5e38"/>
<path d="M377.76 437.33V439.68" stroke="#1a4680"/>
<path d="M373.70 441.48V446.14" stroke="#1a4680"/>
<path d="M376.74 443.37V446.64" stroke="#1a4680"/>
<path d="M376.74 445.64V448.91" stroke="#1a68b8"/>
<path d="M378.43 447.06V449.41" stroke="#1a68b8"/>
<path d="M378.43 448.41V450.75" stroke="#1e6cc0"/>
<path d="M369.00 440.79V462.29" stroke="#3cb06c"/>
<path d="M374.27 459.06V462.79" stroke="#3cb06c"/>
<path d="M380.24 456.29V459.56" stroke="#3cb06c"/>
<path d="M388.10 454.44V456.79" stroke="#3cb06c"/>
<path d="M388.10 455.79V458.13" stroke="#3cb06c"/>
<path d="M380.24 458.56V461.83" stroke="#1a60a8"/>
<path d="M374.27 461.79V465.52" stroke="#3cb06c"/>
<path d="M368.00 454.75V469.21" stroke="#3cb06c"/>
<path d="M366.70 467.50V480.74" stroke="#3cb06c"/>
<path d="M378.60 475.67V481.24" stroke="#3cb06c"/>
<path d="M384.00 472.90V476.17" stroke="#3cb06c"/>
<path d="M384.00 475.17V478.44" stroke="#1a60a8"/>
<path d="M387.10 476.59V478.94" stroke="#1a60a8"/>
<path d="M387.10 477.94V480.28" stroke="#1a68b8"/>
<path d="M378.60 480.24V485.82" stroke="#3cb06c"/>
<path d="M381.68 483.97V486.32" stroke="#3cb06c"/>
<path d="M381.68 485.32V487.67" stroke="#3cb06c"/>
<path d="M347.90 479.18V491.36" stroke="#d9621f"/>
<path d="M322.30 515.71V552.74" stroke="#3cb06c"/>
<path d="M327.40 545.83V553.24" stroke="#1e4a86"/>
<path d="M333.90 541.23V546.33" stroke="#1e4a86"/>
<path d="M353.10 535.73V541.73" stroke="#1e4a86"/>
<path d="M354.60 528.42V536.23" stroke="#1e4a86"/>
<path d="M356.20 519.33V528.92" stroke="#1e4a86"/>
<path d="M364.60 512.24V519.83" stroke="#1e4a86"/>
<path d="M365.40 507.28V512.74" stroke="#1e4a86"/>
<path d="M368.00 502.89V507.78" stroke="#1e4a86"/>
<path d="M369.80 499.66V503.39" stroke="#1e4a86"/>
<path d="M371.50 496.89V500.16" stroke="#1e4a86"/>
<path d="M373.30 495.05V497.39" stroke="#1a4680"/>
<path d="M373.30 496.39V498.74" stroke="#1a4680"/>
<path d="M371.50 499.16V502.43" stroke="#1a4680"/>
<path d="M369.80 502.39V506.12" stroke="#1a4680"/>
<path d="M368.00 506.78V511.66" stroke="#1a4680"/>
<path d="M370.50 509.82V512.16" stroke="#1a4680"/>
<path d="M370.50 511.16V513.51" stroke="#1a4680"/>
<path d="M365.40 511.74V517.20" stroke="#1a4680"/>
<path d="M364.60 518.83V526.43" stroke="#1e4a86"/>
<path d="M368.50 522.74V526.93" stroke="#1a4680"/>
<path d="M378.00 520.89V523.24" stroke="#1a4680"/>
<path d="M378.00 522.24V524.58" stroke="#1a4680"/>
<path d="M368.50 525.93V530.12" stroke="#1a4680"/>
<path d="M368.00 528.27V530.62" stroke="#1a4680"/>
<path d="M368.00 529.62V531.96" stroke="#1a4680"/>
<path d="M356.20 527.92V537.50" stroke="#1a4680"/>
<path d="M357.50 535.66V538.00" stroke="#1a4680"/>
<path d="M357.50 537.00V539.35" stroke="#102a52"/>
<path d="M354.60 535.23V543.04" stroke="#1a68b8"/>
<path d="M353.10 540.73V546.73" stroke="#1a68b8"/>
<path d="M333.90 545.33V550.42" stroke="#3cb06c"/>
<path d="M327.40 552.24V559.65" stroke="#3cb06c"/>
<path d="M336.40 555.96V560.15" stroke="#123a22"/>
<path d="M339.00 554.11V556.46" stroke="#123a22"/>
<path d="M339.00 555.46V557.80" stroke="#123a22"/>
<path d="M336.40 559.15V563.34" stroke="#226a40"/>
<path d="M340.50 561.50V563.84" stroke="#226a40"/>
<path d="M340.50 562.84V565.19" stroke="#226a40"/>
<path d="M315.80 542.04V568.88" stroke="#2a9088"/>
<path d="M290.20 557.06V572.57" stroke="#1e4a86"/>
<path d="M198.70 502.93V584.11" stroke="#8e1a40"/>
<path d="M224.20 580.88V584.61" stroke="#1e4a86"/>
<path d="M242.30 578.11V581.38" stroke="#8e1a40"/>
<path d="M267.20 576.26V578.61" stroke="#143260"/>
<path d="M267.20 577.61V579.95" stroke="#6a0e2a"/>
<path d="M242.30 580.38V583.65" stroke="#1a4680"/>
<path d="M224.20 583.61V587.34" stroke="#8e1a40"/>
<path d="M145.20 700.93V899.43" stroke="#8e1a40"/>
<path d="M227.20 870.98V899.93" stroke="#8e1a40"/>
<path d="M257.50 842.30V871.48" stroke="#1e4a86"/>
<path d="M264.60 835.17V842.80" stroke="#8e1a40"/>
<path d="M324.60 824.60V835.67" stroke="#1e4a86"/>
<path d="M326.25 812.50V825.10" stroke="#1e4a86"/>
<path d="M332.50 791.30V813.00" stroke="#1e4a86"/>
<path d="M335.00 773.70V791.80" stroke="#1e4a86"/>
<path d="M339.60 745.70V774.20" stroke="#1e4a86"/>
<path d="M346.90 703.40V746.20" stroke="#1e4a86"/>
<path d="M349.70 679.80V703.90" stroke="#1e4a86"/>
<path d="M366.30 661.30V680.30" stroke="#1e4a86"/>
<path d="M371.30 640.00V661.80" stroke="#1e4a86"/>
<path d="M373.80 615.25V640.50" stroke="#1e4a86"/>
<path d="M374.60 603.72V615.75" stroke="#1a4680"/>
<path d="M376.50 597.95V604.22" stroke="#1a60a8"/>
<path d="M380.94 592.87V598.45" stroke="#1a60a8"/>
<path d="M385.53 591.03V593.37" stroke="#1a60a8"/>
<path d="M385.53 592.37V594.72" stroke="#1a64b0"/>
<path d="M380.94 597.45V603.03" stroke="#1a4680"/>
<path d="M385.54 600.26V603.53" stroke="#1a4680"/>
<path d="M386.68 598.41V600.76" stroke="#1a4680"/>
<path d="M386.68 599.76V602.10" stroke="#6a1a5a"/>
<path d="M385.54 602.53V605.79" stroke="#102c5e"/>
<path d="M376.50 603.22V609.49" stroke="#1a4680"/>
<path d="M374.60 614.75V626.79" stroke="#1a4680"/>
<path d="M376.00 621.94V627.29" stroke="#1a4680"/>
<path d="M382.16 617.79V622.44" stroke="#1a4680"/>
<path d="M386.09 615.02V618.29" stroke="#1a4680"/>
<path d="M386.81 613.18V615.52" stroke="#1a4680"/>
<path d="M386.81 614.52V616.87" stroke="#1a60a8"/>
<path d="M386.09 617.29V620.56" stroke="#1a64b0"/>
<path d="M382.16 621.44V626.10" stroke="#1a4680"/>
<path d="M386.37 624.25V626.60" stroke="#1a4680"/>
<path d="M386.37 625.60V627.94" stroke="#143670"/>
<path d="M376.00 626.29V631.63" stroke="#1a64b0"/>
<path d="M373.80 639.50V643.17" stroke="#1a4680"/>
<path d="M375.50 638.09V643.67" stroke="#1a4680"/>
<path d="M379.90 635.33V638.59" stroke="#1a4680"/>
<path d="M379.90 637.59V640.86" stroke="#1a60a8"/>
<path d="M380.54 639.02V641.36" stroke="#1a60a8"/>
<path d="M380.54 640.36V642.71" stroke="#1a64b0"/>
<path d="M375.50 642.67V648.25" stroke="#1a64b0"/>
<path d="M378.39 646.40V648.75" stroke="#1a64b0"/>
<path d="M378.39 647.75V650.09" stroke="#1a4680"/>
<path d="M371.30 660.80V682.50" stroke="#1e4a86"/>
<path d="M375.00 663.94V683.00" stroke="#1a4680"/>
<path d="M377.00 659.32V664.44" stroke="#1a4680"/>
<path d="M383.90 655.63V659.82" stroke="#1a64b0"/>
<path d="M387.18 653.78V656.13" stroke="#1a64b0"/>
<path d="M387.18 655.13V657.48" stroke="#1a4680"/>
<path d="M383.90 658.82V663.01" stroke="#1a4680"/>
<path d="M385.69 661.17V663.51" stroke="#1a4680"/>
<path d="M385.69 662.51V664.86" stroke="#1a68b8"/>
<path d="M377.00 663.44V668.55" stroke="#1a4680"/>
<path d="M375.00 677.72V683.00" stroke="#1a4680"/>
<path d="M376.00 672.24V678.22" stroke="#1a4680"/>
<path d="M376.00 677.22V683.20" stroke="#1a4680"/>
<path d="M379.60 675.93V683.70" stroke="#1a4680"/>
<path d="M379.60 682.70V690.47" stroke="#1a4680"/>
<path d="M380.42 686.55V690.97" stroke="#1a4680"/>
<path d="M380.54 682.39V687.05" stroke="#1a4680"/>
<path d="M380.54 679.62V682.89" stroke="#1a4680"/>
<path d="M380.54 681.89V685.16" stroke="#1a4680"/>
<path d="M380.54 683.32V685.66" stroke="#1a4680"/>
<path d="M380.54 684.66V687.01" stroke="#1a4680"/>
<path d="M380.54 686.05V690.70" stroke="#1e6cc0"/>
<path d="M380.42 689.97V694.39" stroke="#1e6cc0"/>
<path d="M366.30 679.30V698.08" stroke="#1a68b8"/>
<path d="M349.70 702.90V703.62" stroke="#1a4680"/>
<path d="M350.50 701.77V704.12" stroke="#1a4680"/>
<path d="M350.50 703.12V705.46" stroke="#2a6aa0"/>
<path d="M349.70 702.90V709.16" stroke="#1a64b0"/>
<path d="M346.90 745.20V788.20" stroke="#1e4a86"/>
<path d="M347.40 782.20V788.70" stroke="#1e4a86"/>
<path d="M357.20 773.40V782.70" stroke="#1e4a86"/>
<path d="M359.50 753.70V773.90" stroke="#1e4a86"/>
<path d="M361.90 739.38V754.20" stroke="#1e4a86"/>
<path d="M365.10 730.84V739.88" stroke="#1e4a86"/>
<path d="M367.50 723.92V731.34" stroke="#1e4a86"/>
<path d="M369.80 718.38V724.42" stroke="#1e4a86"/>
<path d="M371.70 714.69V718.88" stroke="#1a60a8"/>
<path d="M377.30 712.85V715.19" stroke="#1a60a8"/>
<path d="M377.30 714.19V716.54" stroke="#1a64b0"/>
<path d="M371.70 717.88V722.08" stroke="#1a64b0"/>
<path d="M374.00 720.23V722.58" stroke="#1a64b0"/>
<path d="M374.00 721.58V723.92" stroke="#1a64b0"/>
<path d="M369.80 723.42V729.46" stroke="#1a60a8"/>
<path d="M372.00 727.61V729.96" stroke="#1a60a8"/>
<path d="M372.00 728.96V731.31" stroke="#1a60a8"/>
<path d="M367.50 730.34V737.77" stroke="#1a64b0"/>
<path d="M370.00 735.00V738.27" stroke="#1e6cc0"/>
<path d="M370.00 737.27V740.53" stroke="#1a64b0"/>
<path d="M370.09 738.69V741.03" stroke="#1a64b0"/>
<path d="M370.09 740.03V742.38" stroke="#1a64b0"/>
<path d="M365.10 738.88V747.92" stroke="#1a60a8"/>
<path d="M367.00 746.07V748.42" stroke="#1a60a8"/>
<path d="M367.00 747.42V749.76" stroke="#1a68b8"/>
<path d="M361.90 753.20V759.45" stroke="#1a60a8"/>
<path d="M363.00 755.30V759.95" stroke="#1a60a8"/>
<path d="M368.58 753.45V755.80" stroke="#1a60a8"/>
<path d="M368.58 754.80V757.15" stroke="#1a4680"/>
<path d="M363.00 758.95V763.61" stroke="#1a4680"/>
<path d="M366.29 760.84V764.11" stroke="#1a4680"/>
<path d="M366.29 763.11V766.37" stroke="#1a60a8"/>
<path d="M367.60 764.53V766.87" stroke="#1a60a8"/>
<path d="M367.60 765.87V768.22" stroke="#1a64b0"/>
<path d="M359.50 772.90V778.83" stroke="#1e4a86"/>
<path d="M363.00 773.76V779.33" stroke="#1a60a8"/>
<path d="M365.91 771.91V774.26" stroke="#1a60a8"/>
<path d="M365.91 773.26V775.60" stroke="#1a60a8"/>
<path d="M363.00 778.33V783.91" stroke="#6a1a5a"/>
<path d="M368.00 781.14V784.41" stroke="#6a1a5a"/>
<path d="M372.81 779.29V781.64" stroke="#6a1a5a"/>
<path d="M372.81 780.64V782.99" stroke="#184a2c"/>
<path d="M368.00 783.41V786.68" stroke="#1a4680"/>
<path d="M357.20 781.70V790.37" stroke="#1a4680"/>
<path d="M347.40 787.70V794.06" stroke="#1a4e8e"/>
<path d="M339.60 773.20V800.52" stroke="#6a1a5a"/>
<path d="M346.70 797.75V801.02" stroke="#6a1a5a"/>
<path d="M346.70 800.02V803.29" stroke="#6a1a5a"/>
<path d="M349.15 801.44V803.79" stroke="#6a1a5a"/>
<path d="M349.15 802.79V805.14" stroke="#6a1a5a"/>
<path d="M335.00 790.80V808.83" stroke="#1a4e8e"/>
<path d="M332.50 812.00V818.06" stroke="#1e4a86"/>
<path d="M333.50 814.36V818.56" stroke="#1a4e8e"/>
<path d="M338.00 812.52V814.86" stroke="#1a4e8e"/>
<path d="M338.00 813.86V816.21" stroke="#1a4e8e"/>
<path d="M333.50 817.56V821.75" stroke="#1a4e8e"/>
<path d="M339.60 819.90V822.25" stroke="#1a4e8e"/>
<path d="M339.60 821.25V823.59" stroke="#1a4e8e"/>
<path d="M326.25 824.10V836.51" stroke="#1a4e8e"/>
<path d="M345.00 834.67V837.01" stroke="#1a4e8e"/>
<path d="M345.00 836.01V838.36" stroke="#1a4680"/>
<path d="M324.60 834.67V835.59" stroke="#1e4a86"/>
<path d="M330.00 829.13V836.09" stroke="#6a1a5a"/>
<path d="M339.20 827.28V829.63" stroke="#6a1a5a"/>
<path d="M339.20 828.63V830.98" stroke="#1a4e8e"/>
<path d="M330.00 835.09V842.05" stroke="#8e1a40"/>
<path d="M324.60 834.67V845.74" stroke="#8e1a40"/>
<path d="M264.60 841.80V849.43" stroke="#1e4a86"/>
<path d="M257.50 870.48V899.66" stroke="#8e1a40"/>
<path d="M279.60 887.82V900.16" stroke="#8e1a40"/>
<path d="M288.00 881.91V888.32" stroke="#8e1a40"/>
<path d="M293.00 873.77V882.41" stroke="#1e4a86"/>
<path d="M294.20 866.74V874.27" stroke="#1e4a86"/>
<path d="M315.30 861.89V867.24" stroke="#1e4a86"/>
<path d="M318.40 857.74V862.39" stroke="#1e4a86"/>
<path d="M325.20 854.97V858.24" stroke="#2a9088"/>
<path d="M335.80 853.12V855.47" stroke="#2a9088"/>
<path d="M335.80 854.47V856.82" stroke="#1a5496"/>
<path d="M325.20 857.24V860.51" stroke="#1a4680"/>
<path d="M318.40 861.39V866.05" stroke="#1a4680"/>
<path d="M320.00 864.20V866.55" stroke="#1a4680"/>
<path d="M320.00 865.55V867.89" stroke="#1a4680"/>
<path d="M315.30 866.24V871.58" stroke="#1a60a8"/>
<path d="M294.20 873.27V880.81" stroke="#8e1a40"/>
<path d="M305.40 877.12V881.31" stroke="#6a0e2a"/>
<path d="M308.89 875.27V877.62" stroke="#6a0e2a"/>
<path d="M308.89 876.62V878.97" stroke="#6a0e2a"/>
<path d="M305.40 880.31V884.50" stroke="#2a6aa0"/>
<path d="M309.75 882.66V885.00" stroke="#2a6aa0"/>
<path d="M309.75 884.00V886.35" stroke="#2a6aa0"/>
<path d="M293.00 881.41V890.04" stroke="#6a0e2a"/>
<path d="M288.00 887.32V893.73" stroke="#3cb06c"/>
<path d="M279.60 899.16V911.50" stroke="#8e1a40"/>
<path d="M306.60 905.27V912.00" stroke="#1e4a86"/>
<path d="M311.40 900.19V905.77" stroke="#8e1a40"/>
<path d="M320.60 897.42V900.69" stroke="#1a60a8"/>
<path d="M320.60 899.69V902.96" stroke="#1a4e8e"/>
<path d="M327.05 901.11V903.46" stroke="#1a4e8e"/>
<path d="M327.05 902.46V904.81" stroke="#6a0e2a"/>
<path d="M311.40 904.77V910.34" stroke="#1a4e8e"/>
<path d="M332.40 908.50V910.84" stroke="#1a4e8e"/>
<path d="M332.40 909.84V912.19" stroke="#1a4e8e"/>
<path d="M306.60 911.00V917.73" stroke="#8e1a40"/>
<path d="M309.20 915.88V918.23" stroke="#1a60a8"/>
<path d="M309.20 917.23V919.57" stroke="#6a0e2a"/>
<path d="M227.20 898.93V927.88" stroke="#8e1a40"/>
<path d="M265.70 925.11V928.38" stroke="#c02a58"/>
<path d="M282.10 923.26V925.61" stroke="#92183c"/>
<path d="M282.10 924.61V926.95" stroke="#ee2a62"/>
<path d="M265.70 927.38V930.65" stroke="#92183c"/>
</g>
<g stroke="#3c3e80" stroke-width="1.25">
<line x1="364.1" y1="24.38" x2="366.8" y2="24.38" stroke-opacity="0.55"/>
<line x1="364.1" y1="31.77" x2="366.8" y2="31.77" stroke-opacity="0.55"/>
<line x1="361.6" y1="28.07" x2="364.3" y2="28.07" stroke-opacity="0.55"/>
<line x1="357.2" y1="39.15" x2="359.9" y2="39.15" stroke-opacity="0.55"/>
<line x1="348.0" y1="31.30" x2="356.0" y2="31.30" stroke-opacity="0.9"/>
<line x1="351.6" y1="46.53" x2="354.3" y2="46.53" stroke-opacity="0.55"/>
<line x1="347.1" y1="49.30" x2="350.3" y2="49.30" stroke-opacity="0.55"/>
<line x1="351.1" y1="57.61" x2="353.8" y2="57.61" stroke-opacity="0.55"/>
<line x1="346.8" y1="60.38" x2="349.5" y2="60.38" stroke-opacity="0.55"/>
<line x1="346.3" y1="68.68" x2="349.0" y2="68.68" stroke-opacity="0.55"/>
<line x1="334.8" y1="59.51" x2="345.5" y2="59.51" stroke-opacity="0.9"/>
<line x1="360.8" y1="76.06" x2="363.5" y2="76.06" stroke-opacity="0.55"/>
<line x1="330.7" y1="69.17" x2="343.5" y2="69.17" stroke-opacity="0.9"/>
<line x1="331.0" y1="77.23" x2="343.5" y2="77.23" stroke-opacity="0.9"/>
<line x1="332.8" y1="94.52" x2="335.5" y2="94.52" stroke-opacity="0.55"/>
<line x1="305.0" y1="88.90" x2="316.0" y2="88.90" stroke-opacity="0.9"/>
<line x1="307.6" y1="101.90" x2="310.7" y2="101.90" stroke-opacity="0.55"/>
<line x1="347.4" y1="116.67" x2="350.1" y2="116.67" stroke-opacity="0.55"/>
<line x1="344.9" y1="113.90" x2="347.6" y2="113.90" stroke-opacity="0.55"/>
<line x1="339.5" y1="118.05" x2="342.4" y2="118.05" stroke-opacity="0.55"/>
<line x1="310.4" y1="127.75" x2="313.1" y2="127.75" stroke-opacity="0.55"/>
<line x1="310.0" y1="130.51" x2="312.7" y2="130.51" stroke-opacity="0.55"/>
<line x1="310.4" y1="138.82" x2="313.1" y2="138.82" stroke-opacity="0.55"/>
<line x1="310.4" y1="141.59" x2="313.1" y2="141.59" stroke-opacity="0.55"/>
<line x1="310.0" y1="144.82" x2="312.7" y2="144.82" stroke-opacity="0.55"/>
<line x1="308.6" y1="137.67" x2="311.3" y2="137.67" stroke-opacity="0.55"/>
<line x1="324.7" y1="153.59" x2="327.4" y2="153.59" stroke-opacity="0.55"/>
<line x1="331.7" y1="160.97" x2="336.3" y2="160.97" stroke-opacity="0.55"/>
<line x1="312.2" y1="157.28" x2="320.3" y2="157.28" stroke-opacity="0.55"/>
<line x1="298.0" y1="151.60" x2="306.0" y2="151.60" stroke-opacity="0.9"/>
<line x1="298.0" y1="125.60" x2="306.0" y2="125.60" stroke-opacity="0.9"/>
<line x1="309.3" y1="172.04" x2="312.0" y2="172.04" stroke-opacity="0.55"/>
<line x1="307.4" y1="174.81" x2="310.1" y2="174.81" stroke-opacity="0.55"/>
<line x1="315.2" y1="183.12" x2="318.7" y2="183.12" stroke-opacity="0.55"/>
<line x1="305.8" y1="178.96" x2="308.5" y2="178.96" stroke-opacity="0.55"/>
<line x1="300.8" y1="172.74" x2="305.2" y2="172.74" stroke-opacity="0.55"/>
<line x1="292.0" y1="171.20" x2="302.0" y2="171.20" stroke-opacity="0.9"/>
<line x1="306.1" y1="201.57" x2="308.8" y2="201.57" stroke-opacity="0.55"/>
<line x1="305.3" y1="198.81" x2="308.0" y2="198.81" stroke-opacity="0.55"/>
<line x1="296.8" y1="195.58" x2="302.2" y2="195.58" stroke-opacity="0.55"/>
<line x1="367.2" y1="216.34" x2="369.9" y2="216.34" stroke-opacity="0.55"/>
<line x1="367.1" y1="223.72" x2="369.8" y2="223.72" stroke-opacity="0.55"/>
<line x1="360.3" y1="220.03" x2="365.2" y2="220.03" stroke-opacity="0.55"/>
<line x1="371.0" y1="234.80" x2="373.7" y2="234.80" stroke-opacity="0.55"/>
<line x1="369.9" y1="237.57" x2="372.6" y2="237.57" stroke-opacity="0.55"/>
<line x1="362.2" y1="233.41" x2="367.3" y2="233.41" stroke-opacity="0.55"/>
<line x1="346.0" y1="226.72" x2="358.0" y2="226.72" stroke-opacity="0.55"/>
<line x1="347.4" y1="245.87" x2="357.7" y2="245.87" stroke-opacity="0.55"/>
<line x1="340.0" y1="236.30" x2="352.0" y2="236.30" stroke-opacity="0.9"/>
<line x1="372.2" y1="260.64" x2="374.9" y2="260.64" stroke-opacity="0.55"/>
<line x1="365.3" y1="257.87" x2="368.0" y2="257.87" stroke-opacity="0.55"/>
<line x1="352.3" y1="254.64" x2="356.1" y2="254.64" stroke-opacity="0.55"/>
<line x1="357.7" y1="268.02" x2="360.4" y2="268.02" stroke-opacity="0.55"/>
<line x1="347.0" y1="261.33" x2="353.3" y2="261.33" stroke-opacity="0.55"/>
<line x1="341.0" y1="248.81" x2="353.0" y2="248.81" stroke-opacity="0.9"/>
<line x1="367.1" y1="275.40" x2="369.8" y2="275.40" stroke-opacity="0.55"/>
<line x1="369.9" y1="282.79" x2="372.6" y2="282.79" stroke-opacity="0.55"/>
<line x1="360.2" y1="279.10" x2="366.2" y2="279.10" stroke-opacity="0.55"/>
<line x1="371.0" y1="293.86" x2="373.7" y2="293.86" stroke-opacity="0.55"/>
<line x1="369.8" y1="291.09" x2="372.5" y2="291.09" stroke-opacity="0.55"/>
<line x1="362.0" y1="295.25" x2="367.2" y2="295.25" stroke-opacity="0.55"/>
<line x1="353.3" y1="287.17" x2="362.7" y2="287.17" stroke-opacity="0.55"/>
<line x1="359.9" y1="304.94" x2="362.6" y2="304.94" stroke-opacity="0.55"/>
<line x1="353.7" y1="307.71" x2="358.8" y2="307.71" stroke-opacity="0.55"/>
<line x1="345.0" y1="297.44" x2="357.0" y2="297.44" stroke-opacity="0.9"/>
<line x1="341.0" y1="273.13" x2="352.0" y2="273.13" stroke-opacity="0.9"/>
<line x1="281.0" y1="305.75" x2="324.7" y2="305.75" stroke-opacity="0.9"/>
<line x1="259.5" y1="254.39" x2="285.6" y2="254.39" stroke-opacity="0.9"/>
<line x1="243.0" y1="287.97" x2="280.0" y2="287.97" stroke-opacity="0.9"/>
<line x1="394.9" y1="327.09" x2="397.6" y2="327.09" stroke-opacity="0.55"/>
<line x1="392.2" y1="329.85" x2="394.9" y2="329.85" stroke-opacity="0.55"/>
<line x1="387.9" y1="341.85" x2="392.6" y2="341.85" stroke-opacity="0.55"/>
<line x1="383.0" y1="342.43" x2="389.0" y2="342.43" stroke-opacity="0.9"/>
<line x1="386.6" y1="352.93" x2="392.0" y2="352.93" stroke-opacity="0.55"/>
<line x1="381.0" y1="347.68" x2="387.0" y2="347.68" stroke-opacity="0.9"/>
<line x1="377.0" y1="353.07" x2="384.0" y2="353.07" stroke-opacity="0.9"/>
<line x1="372.0" y1="361.73" x2="379.0" y2="361.73" stroke-opacity="0.9"/>
<line x1="389.4" y1="371.38" x2="392.1" y2="371.38" stroke-opacity="0.55"/>
<line x1="389.2" y1="378.77" x2="391.9" y2="378.77" stroke-opacity="0.55"/>
<line x1="386.9" y1="375.08" x2="389.6" y2="375.08" stroke-opacity="0.55"/>
<line x1="383.8" y1="379.69" x2="386.5" y2="379.69" stroke-opacity="0.55"/>
<line x1="395.1" y1="393.53" x2="397.8" y2="393.53" stroke-opacity="0.55"/>
<line x1="386.5" y1="390.76" x2="389.9" y2="390.76" stroke-opacity="0.55"/>
<line x1="376.0" y1="385.23" x2="384.0" y2="385.23" stroke-opacity="0.9"/>
<line x1="369.0" y1="373.48" x2="377.0" y2="373.48" stroke-opacity="0.9"/>
<line x1="387.8" y1="400.92" x2="390.5" y2="400.92" stroke-opacity="0.55"/>
<line x1="386.8" y1="408.30" x2="389.5" y2="408.30" stroke-opacity="0.55"/>
<line x1="377.2" y1="415.68" x2="379.9" y2="415.68" stroke-opacity="0.55"/>
<line x1="379.3" y1="423.06" x2="382.0" y2="423.06" stroke-opacity="0.55"/>
<line x1="377.0" y1="416.60" x2="384.0" y2="416.60" stroke-opacity="0.9"/>
<line x1="377.2" y1="430.45" x2="379.9" y2="430.45" stroke-opacity="0.55"/>
<line x1="374.0" y1="423.70" x2="382.0" y2="423.70" stroke-opacity="0.9"/>
<line x1="367.0" y1="398.59" x2="376.0" y2="398.59" stroke-opacity="0.9"/>
<line x1="376.6" y1="437.83" x2="379.3" y2="437.83" stroke-opacity="0.55"/>
<line x1="377.2" y1="448.91" x2="379.9" y2="448.91" stroke-opacity="0.55"/>
<line x1="375.5" y1="446.14" x2="378.2" y2="446.14" stroke-opacity="0.55"/>
<line x1="372.3" y1="441.98" x2="375.5" y2="441.98" stroke-opacity="0.55"/>
<line x1="366.0" y1="420.29" x2="375.0" y2="420.29" stroke-opacity="0.9"/>
<line x1="386.9" y1="456.29" x2="389.6" y2="456.29" stroke-opacity="0.55"/>
<line x1="378.9" y1="459.06" x2="381.9" y2="459.06" stroke-opacity="0.55"/>
<line x1="373.1" y1="462.29" x2="375.8" y2="462.29" stroke-opacity="0.55"/>
<line x1="365.0" y1="441.29" x2="374.0" y2="441.29" stroke-opacity="0.9"/>
<line x1="364.0" y1="455.25" x2="373.0" y2="455.25" stroke-opacity="0.9"/>
<line x1="385.9" y1="478.44" x2="388.6" y2="478.44" stroke-opacity="0.55"/>
<line x1="382.8" y1="475.67" x2="385.5" y2="475.67" stroke-opacity="0.55"/>
<line x1="380.5" y1="485.82" x2="383.2" y2="485.82" stroke-opacity="0.55"/>
<line x1="377.4" y1="480.74" x2="380.1" y2="480.74" stroke-opacity="0.55"/>
<line x1="328.8" y1="479.68" x2="362.8" y2="479.68" stroke-opacity="0.9"/>
<line x1="369.3" y1="511.66" x2="372.0" y2="511.66" stroke-opacity="0.55"/>
<line x1="364.0" y1="507.28" x2="370.0" y2="507.28" stroke-opacity="0.9"/>
<line x1="362.0" y1="512.24" x2="368.0" y2="512.24" stroke-opacity="0.9"/>
<line x1="376.8" y1="522.74" x2="379.5" y2="522.74" stroke-opacity="0.55"/>
<line x1="366.8" y1="530.12" x2="369.5" y2="530.12" stroke-opacity="0.55"/>
<line x1="362.0" y1="519.33" x2="367.0" y2="519.33" stroke-opacity="0.9"/>
<line x1="356.3" y1="537.50" x2="359.0" y2="537.50" stroke-opacity="0.55"/>
<line x1="352.0" y1="528.42" x2="359.0" y2="528.42" stroke-opacity="0.9"/>
<line x1="336.6" y1="555.96" x2="341.9" y2="555.96" stroke-opacity="0.55"/>
<line x1="339.2" y1="563.34" x2="342.2" y2="563.34" stroke-opacity="0.55"/>
<line x1="318.0" y1="552.74" x2="334.0" y2="552.74" stroke-opacity="0.9"/>
<line x1="311.3" y1="516.21" x2="332.0" y2="516.21" stroke-opacity="0.9"/>
<line x1="255.0" y1="557.56" x2="314.7" y2="557.56" stroke-opacity="0.9"/>
<line x1="222.0" y1="422.76" x2="272.3" y2="422.76" stroke-opacity="0.9"/>
<line x1="217.5" y1="580.88" x2="258.4" y2="580.88" stroke-opacity="0.9"/>
<line x1="190.7" y1="584.11" x2="251.5" y2="584.11" stroke-opacity="0.9"/>
<line x1="158.0" y1="503.43" x2="233.5" y2="503.43" stroke-opacity="0.9"/>
<line x1="384.3" y1="592.87" x2="387.0" y2="592.87" stroke-opacity="0.55"/>
<line x1="385.5" y1="600.26" x2="388.2" y2="600.26" stroke-opacity="0.55"/>
<line x1="384.3" y1="603.03" x2="387.0" y2="603.03" stroke-opacity="0.55"/>
<line x1="379.2" y1="597.95" x2="383.1" y2="597.95" stroke-opacity="0.55"/>
<line x1="375.3" y1="603.72" x2="378.0" y2="603.72" stroke-opacity="0.55"/>
<line x1="385.6" y1="615.02" x2="388.3" y2="615.02" stroke-opacity="0.55"/>
<line x1="384.9" y1="617.79" x2="387.6" y2="617.79" stroke-opacity="0.55"/>
<line x1="385.2" y1="626.10" x2="387.9" y2="626.10" stroke-opacity="0.55"/>
<line x1="380.8" y1="621.94" x2="383.9" y2="621.94" stroke-opacity="0.55"/>
<line x1="374.6" y1="626.79" x2="377.7" y2="626.79" stroke-opacity="0.55"/>
<line x1="371.0" y1="615.25" x2="378.0" y2="615.25" stroke-opacity="0.9"/>
<line x1="379.3" y1="640.86" x2="382.0" y2="640.86" stroke-opacity="0.55"/>
<line x1="378.7" y1="638.09" x2="381.4" y2="638.09" stroke-opacity="0.55"/>
<line x1="377.2" y1="648.25" x2="379.9" y2="648.25" stroke-opacity="0.55"/>
<line x1="374.3" y1="643.17" x2="377.0" y2="643.17" stroke-opacity="0.55"/>
<line x1="369.0" y1="640.00" x2="377.0" y2="640.00" stroke-opacity="0.9"/>
<line x1="386.0" y1="655.63" x2="388.7" y2="655.63" stroke-opacity="0.55"/>
<line x1="384.5" y1="663.01" x2="387.2" y2="663.01" stroke-opacity="0.55"/>
<line x1="382.7" y1="659.32" x2="385.4" y2="659.32" stroke-opacity="0.55"/>
<line x1="375.8" y1="663.94" x2="378.5" y2="663.94" stroke-opacity="0.55"/>
<line x1="379.3" y1="685.16" x2="382.0" y2="685.16" stroke-opacity="0.55"/>
<line x1="379.3" y1="682.39" x2="382.0" y2="682.39" stroke-opacity="0.55"/>
<line x1="379.3" y1="686.55" x2="382.0" y2="686.55" stroke-opacity="0.55"/>
<line x1="379.2" y1="690.47" x2="381.9" y2="690.47" stroke-opacity="0.55"/>
<line x1="378.4" y1="683.20" x2="381.1" y2="683.20" stroke-opacity="0.55"/>
<line x1="374.8" y1="677.72" x2="377.5" y2="677.72" stroke-opacity="0.55"/>
<line x1="371.0" y1="682.50" x2="378.0" y2="682.50" stroke-opacity="0.9"/>
<line x1="368.0" y1="661.30" x2="375.0" y2="661.30" stroke-opacity="0.9"/>
<line x1="362.0" y1="679.80" x2="371.0" y2="679.80" stroke-opacity="0.9"/>
<line x1="349.3" y1="703.62" x2="352.0" y2="703.62" stroke-opacity="0.55"/>
<line x1="344.0" y1="703.40" x2="355.0" y2="703.40" stroke-opacity="0.9"/>
<line x1="376.1" y1="714.69" x2="378.8" y2="714.69" stroke-opacity="0.55"/>
<line x1="372.8" y1="722.08" x2="375.5" y2="722.08" stroke-opacity="0.55"/>
<line x1="370.7" y1="729.46" x2="373.6" y2="729.46" stroke-opacity="0.55"/>
<line x1="368.9" y1="740.53" x2="371.6" y2="740.53" stroke-opacity="0.55"/>
<line x1="368.8" y1="737.77" x2="371.5" y2="737.77" stroke-opacity="0.55"/>
<line x1="365.8" y1="747.92" x2="368.5" y2="747.92" stroke-opacity="0.55"/>
<line x1="359.0" y1="739.38" x2="368.0" y2="739.38" stroke-opacity="0.9"/>
<line x1="367.4" y1="755.30" x2="370.1" y2="755.30" stroke-opacity="0.55"/>
<line x1="366.4" y1="766.37" x2="369.1" y2="766.37" stroke-opacity="0.55"/>
<line x1="365.1" y1="763.61" x2="367.8" y2="763.61" stroke-opacity="0.55"/>
<line x1="361.5" y1="759.45" x2="364.9" y2="759.45" stroke-opacity="0.55"/>
<line x1="357.0" y1="753.70" x2="366.0" y2="753.70" stroke-opacity="0.9"/>
<line x1="364.7" y1="773.76" x2="367.4" y2="773.76" stroke-opacity="0.55"/>
<line x1="371.6" y1="781.14" x2="374.3" y2="781.14" stroke-opacity="0.55"/>
<line x1="366.8" y1="783.91" x2="369.5" y2="783.91" stroke-opacity="0.55"/>
<line x1="354.0" y1="773.40" x2="364.0" y2="773.40" stroke-opacity="0.9"/>
<line x1="352.0" y1="782.20" x2="362.0" y2="782.20" stroke-opacity="0.9"/>
<line x1="340.0" y1="745.70" x2="352.0" y2="745.70" stroke-opacity="0.9"/>
<line x1="347.9" y1="803.29" x2="350.6" y2="803.29" stroke-opacity="0.55"/>
<line x1="345.5" y1="800.52" x2="348.2" y2="800.52" stroke-opacity="0.55"/>
<line x1="335.0" y1="773.70" x2="344.0" y2="773.70" stroke-opacity="0.9"/>
<line x1="331.0" y1="791.30" x2="339.0" y2="791.30" stroke-opacity="0.9"/>
<line x1="336.8" y1="814.36" x2="339.5" y2="814.36" stroke-opacity="0.55"/>
<line x1="338.4" y1="821.75" x2="341.1" y2="821.75" stroke-opacity="0.55"/>
<line x1="328.0" y1="812.50" x2="337.0" y2="812.50" stroke-opacity="0.9"/>
<line x1="343.7" y1="836.51" x2="346.6" y2="836.51" stroke-opacity="0.55"/>
<line x1="320.4" y1="824.60" x2="330.7" y2="824.60" stroke-opacity="0.9"/>
<line x1="337.5" y1="829.13" x2="341.3" y2="829.13" stroke-opacity="0.55"/>
<line x1="255.0" y1="842.30" x2="272.0" y2="842.30" stroke-opacity="0.9"/>
<line x1="334.3" y1="854.97" x2="337.7" y2="854.97" stroke-opacity="0.55"/>
<line x1="318.8" y1="866.05" x2="321.5" y2="866.05" stroke-opacity="0.55"/>
<line x1="307.7" y1="877.12" x2="310.4" y2="877.12" stroke-opacity="0.55"/>
<line x1="308.5" y1="884.50" x2="311.2" y2="884.50" stroke-opacity="0.55"/>
<line x1="304.2" y1="880.81" x2="306.9" y2="880.81" stroke-opacity="0.55"/>
<line x1="287.0" y1="873.77" x2="301.0" y2="873.77" stroke-opacity="0.9"/>
<line x1="285.0" y1="881.91" x2="302.0" y2="881.91" stroke-opacity="0.9"/>
<line x1="279.0" y1="887.82" x2="300.0" y2="887.82" stroke-opacity="0.9"/>
<line x1="325.8" y1="902.96" x2="328.5" y2="902.96" stroke-opacity="0.55"/>
<line x1="317.8" y1="900.19" x2="324.1" y2="900.19" stroke-opacity="0.55"/>
<line x1="331.2" y1="910.34" x2="333.9" y2="910.34" stroke-opacity="0.55"/>
<line x1="302.0" y1="905.27" x2="319.0" y2="905.27" stroke-opacity="0.9"/>
<line x1="307.3" y1="917.73" x2="311.6" y2="917.73" stroke-opacity="0.55"/>
<line x1="296.0" y1="911.50" x2="314.0" y2="911.50" stroke-opacity="0.9"/>
<line x1="268.0" y1="899.66" x2="293.0" y2="899.66" stroke-opacity="0.9"/>
<line x1="245.0" y1="870.98" x2="267.0" y2="870.98" stroke-opacity="0.9"/>
<line x1="282.0" y1="925.11" x2="302.6" y2="925.11" stroke-opacity="0.9"/>
<line x1="244.8" y1="927.88" x2="292.0" y2="927.88" stroke-opacity="0.9"/>
<line x1="187.5" y1="899.43" x2="252.6" y2="899.43" stroke-opacity="0.9"/>
<line x1="67.4" y1="701.43" x2="204.0" y2="701.43" stroke-opacity="0.9"/>
</g>
<circle cx="300.7" cy="153.8" r="2.9" fill="#000"/>
<text x="244.1" y="149.7" font-size="10.3" fill="#161616" stroke="#161616" stroke-width="0.3" textLength="51.2" lengthAdjust="spacingAndGlyphs">1.00 / 0.99</text>
<circle cx="285.3" cy="203.0" r="2.9" fill="#000"/>
<text x="228.9" y="192.8" font-size="10.3" fill="#161616" stroke="#161616" stroke-width="0.3" textLength="51.2" lengthAdjust="spacingAndGlyphs">1.00 / 0.96</text>
<circle cx="343.9" cy="293.6" r="2.9" fill="#000"/>
<text x="287.2" y="285.6" font-size="10.3" fill="#161616" stroke="#161616" stroke-width="0.3" textLength="51.2" lengthAdjust="spacingAndGlyphs">1.00 / 0.75</text>
<circle cx="273.2" cy="254.4" r="2.9" fill="#444"/>
<text x="216.4" y="245.2" font-size="10.3" fill="#505050" stroke="#505050" stroke-width="0.3" textLength="51.2" lengthAdjust="spacingAndGlyphs">0.99 / 0.81</text>
<circle cx="366.7" cy="468.0" r="2.9" fill="#000"/>
<text x="309.8" y="457.4" font-size="10.3" fill="#161616" stroke="#161616" stroke-width="0.3" textLength="51.2" lengthAdjust="spacingAndGlyphs">1.00 / 0.96</text>
<circle cx="353.1" cy="541.2" r="2.9" fill="#000"/>
<text x="296.5" y="529.9" font-size="10.3" fill="#161616" stroke="#161616" stroke-width="0.3" textLength="51.2" lengthAdjust="spacingAndGlyphs">1.00 / 0.81</text>
<circle cx="336.4" cy="559.7" r="2.9" fill="#000"/>
<text x="279.5" y="556.0" font-size="10.3" fill="#161616" stroke="#161616" stroke-width="0.3" textLength="51.2" lengthAdjust="spacingAndGlyphs">1.00 / 0.87</text>
<circle cx="224.2" cy="584.1" r="2.9" fill="#000"/>
<text x="167.2" y="574.0" font-size="10.3" fill="#161616" stroke="#161616" stroke-width="0.3" textLength="51.2" lengthAdjust="spacingAndGlyphs">0.81 / 0.46</text>
<circle cx="198.7" cy="503.4" r="2.9" fill="#444"/>
<text x="141.9" y="494.0" font-size="10.3" fill="#505050" stroke="#505050" stroke-width="0.3" textLength="51.2" lengthAdjust="spacingAndGlyphs">0.88 / 0.23</text>
<circle cx="324.6" cy="835.2" r="2.9" fill="#000"/>
<text x="264.8" y="826.4" font-size="10.3" fill="#161616" stroke="#161616" stroke-width="0.3" textLength="51.2" lengthAdjust="spacingAndGlyphs">1.00 / 1.00</text>
<circle cx="279.6" cy="899.7" r="2.9" fill="#000"/>
<text x="225.0" y="891.6" font-size="10.3" fill="#161616" stroke="#161616" stroke-width="0.3" textLength="51.2" lengthAdjust="spacingAndGlyphs">1.00 / 0.61</text>
<circle cx="265.7" cy="927.9" r="2.9" fill="#000"/>
<text x="210.8" y="916.5" font-size="10.3" fill="#161616" stroke="#161616" stroke-width="0.3" textLength="51.2" lengthAdjust="spacingAndGlyphs">0.79 / 0.57</text>
<circle cx="145.2" cy="701.4" r="2.9" fill="#444"/>
<text x="88.6" y="692.2" font-size="10.3" fill="#505050" stroke="#505050" stroke-width="0.3" textLength="51.2" lengthAdjust="spacingAndGlyphs">1.00 / 0.25</text>
<rect x="401.2" y="17.00" width="108" height="25.84" fill="#a8c8e0"/>
<rect x="401.2" y="50.22" width="108" height="162.43" fill="#a8c8e0"/>
<rect x="401.2" y="212.65" width="108" height="14.77" fill="#e3ebb4"/>
<rect x="401.2" y="231.11" width="108" height="14.77" fill="#e3ebb4"/>
<rect x="401.2" y="271.71" width="108" height="29.53" fill="#e3ebb4"/>
<rect x="401.2" y="312.32" width="108" height="3.69" fill="#e3ebb4"/>
<rect x="401.2" y="316.01" width="108" height="3.69" fill="#eebcb6"/>
<rect x="401.2" y="323.39" width="108" height="14.77" fill="#f6ee8a"/>
<rect x="401.2" y="341.85" width="108" height="7.38" fill="#f6ee8a"/>
<rect x="401.2" y="356.62" width="108" height="3.69" fill="#f6ee8a"/>
<rect x="401.2" y="360.31" width="108" height="3.69" fill="#e3ebb4"/>
<rect x="401.2" y="367.69" width="108" height="18.46" fill="#eebcb6"/>
<rect x="401.2" y="397.22" width="108" height="18.46" fill="#eebcb6"/>
<rect x="401.2" y="419.37" width="108" height="14.77" fill="#eebcb6"/>
<rect x="401.2" y="452.60" width="108" height="7.38" fill="#eebcb6"/>
<rect x="401.2" y="467.36" width="108" height="3.69" fill="#eebcb6"/>
<rect x="401.2" y="552.27" width="108" height="3.69" fill="#f6ee8a"/>
<rect x="401.2" y="699.93" width="108" height="7.38" fill="#c9a5d3"/>
<rect x="401.2" y="781.14" width="108" height="3.69" fill="#f6ee8a"/>
<rect x="401.2" y="840.20" width="108" height="3.69" fill="#c9a5d3"/>
<rect x="401.2" y="858.66" width="108" height="3.69" fill="#a8c8e0"/>
<rect x="401.2" y="873.43" width="108" height="3.69" fill="#a8c8e0"/>
<rect x="401.2" y="884.50" width="108" height="11.07" fill="#a8c8e0"/>
<rect x="401.2" y="899.27" width="108" height="3.69" fill="#a8c8e0"/>
<rect x="401.2" y="917.73" width="108" height="3.69" fill="#a8c8e0"/>
<g font-size="10" font-weight="normal" stroke-width="0.6" text-rendering="geometricPrecision">
<text transform="translate(402.3,19.95) rotate(0.05) scale(0.32)" fill="#9a2682" stroke="#9a2682" textLength="270.2" lengthAdjust="spacingAndGlyphs">KT284993_06_IT_16_SVDV</text>
<text transform="translate(402.3,23.64) rotate(0.05) scale(0.32)" fill="#9a2682" stroke="#9a2682" textLength="260.7" lengthAdjust="spacingAndGlyphs">EU151449_99_IT_1_SVDV</text>
<text transform="translate(402.3,27.33) rotate(0.05) scale(0.32)" fill="#9a2682" stroke="#9a2682" textLength="260.7" lengthAdjust="spacingAndGlyphs">EU151450_99_IT_3_SVDV</text>
<text transform="translate(402.3,31.02) rotate(0.05) scale(0.32)" fill="#9a2682" stroke="#9a2682" textLength="260.7" lengthAdjust="spacingAndGlyphs">EU151453_99_IT_7_SVDV</text>
<text transform="translate(402.3,34.71) rotate(0.05) scale(0.32)" fill="#9a2682" stroke="#9a2682" textLength="272.5" lengthAdjust="spacingAndGlyphs">EU151446_99_IT_10_SVDV</text>
<text transform="translate(402.3,38.40) rotate(0.05) scale(0.32)" fill="#9a2682" stroke="#9a2682" textLength="260.7" lengthAdjust="spacingAndGlyphs">EU151448_97_IT_5_SVDV</text>
<text transform="translate(402.3,42.09) rotate(0.05) scale(0.32)" fill="#9a2682" stroke="#9a2682" textLength="260.7" lengthAdjust="spacingAndGlyphs">EU151447_97_IT_2_SVDV</text>
<text transform="translate(402.3,45.79) rotate(0.05) scale(0.32)" fill="#9a2682" stroke="#9a2682" textLength="267.4" lengthAdjust="spacingAndGlyphs">AY187636_93_ES_2_SVDV</text>
<text transform="translate(402.3,49.48) rotate(0.05) scale(0.32)" fill="#9a2682" stroke="#9a2682" textLength="267.8" lengthAdjust="spacingAndGlyphs">AF039168_93_ES_1_SVDV</text>
<text transform="translate(402.3,53.17) rotate(0.05) scale(0.32)" fill="#9a2682" stroke="#9a2682" textLength="270.2" lengthAdjust="spacingAndGlyphs">KU291213_93_ES_1_SVDV</text>
<text transform="translate(402.3,56.86) rotate(0.05) scale(0.32)" fill="#9a2682" stroke="#9a2682" textLength="260.7" lengthAdjust="spacingAndGlyphs">EU151452_93_IT_8_SVDV</text>
<text transform="translate(402.3,60.55) rotate(0.05) scale(0.32)" fill="#9a2682" stroke="#9a2682" textLength="272.5" lengthAdjust="spacingAndGlyphs">EU151446_93_IT_16_SVDV</text>
<text transform="translate(402.3,64.24) rotate(0.05) scale(0.32)" fill="#9a2682" stroke="#9a2682" textLength="260.7" lengthAdjust="spacingAndGlyphs">EU151451_92_IT_6_SVDV</text>
<text transform="translate(402.3,67.94) rotate(0.05) scale(0.32)" fill="#9a2682" stroke="#9a2682" textLength="272.5" lengthAdjust="spacingAndGlyphs">EU151455_92_IT_10_SVDV</text>
<text transform="translate(402.3,71.63) rotate(0.05) scale(0.32)" fill="#9a2682" stroke="#9a2682" textLength="266.6" lengthAdjust="spacingAndGlyphs">AF268065_92_NL_1_SVDV</text>
<text transform="translate(402.3,75.32) rotate(0.05) scale(0.32)" fill="#9a2682" stroke="#9a2682" textLength="300.9" lengthAdjust="spacingAndGlyphs">AF121265_99_TW_TN2_SVDV</text>
<text transform="translate(402.3,79.01) rotate(0.05) scale(0.32)" fill="#9a2682" stroke="#9a2682" textLength="302.1" lengthAdjust="spacingAndGlyphs">AB716937_99_TW_TN1_SVDV</text>
<text transform="translate(402.3,82.70) rotate(0.05) scale(0.32)" fill="#9a2682" stroke="#9a2682" textLength="294.6" lengthAdjust="spacingAndGlyphs">KT285001_97_TW_115_SVDV</text>
<text transform="translate(402.3,86.39) rotate(0.05) scale(0.32)" fill="#9a2682" stroke="#9a2682" textLength="269.0" lengthAdjust="spacingAndGlyphs">KT284991_91_HK_4_SVDV</text>
<text transform="translate(402.3,90.08) rotate(0.05) scale(0.32)" fill="#5a3e98" stroke="#5a3e98" textLength="269.0" lengthAdjust="spacingAndGlyphs">KF863276_76_HK_6_SVDV</text>
<text transform="translate(402.3,93.78) rotate(0.05) scale(0.32)" fill="#5a3e98" stroke="#5a3e98" textLength="280.8" lengthAdjust="spacingAndGlyphs">KT284987_85_HK_15_SVDV</text>
<text transform="translate(402.3,97.47) rotate(0.05) scale(0.32)" fill="#5a3e98" stroke="#5a3e98" textLength="269.0" lengthAdjust="spacingAndGlyphs">KT284986_85_HK_5_SVDV</text>
<text transform="translate(402.3,101.16) rotate(0.05) scale(0.32)" fill="#5a3e98" stroke="#5a3e98" textLength="269.0" lengthAdjust="spacingAndGlyphs">KF863274_76_HK_1_SVDV</text>
<text transform="translate(402.3,104.85) rotate(0.05) scale(0.32)" fill="#5a3e98" stroke="#5a3e98" textLength="280.8" lengthAdjust="spacingAndGlyphs">KF863277_74_HK_16_SVDV</text>
<text transform="translate(402.3,108.54) rotate(0.05) scale(0.32)" fill="#5a3e98" stroke="#5a3e98" textLength="258.3" lengthAdjust="spacingAndGlyphs">KT285004_73_IT_1_SVDV</text>
<text transform="translate(402.3,112.23) rotate(0.05) scale(0.32)" fill="#5a3e98" stroke="#5a3e98" textLength="260.7" lengthAdjust="spacingAndGlyphs">EU151450_92_IT_1_SVDV</text>
<text transform="translate(402.3,115.92) rotate(0.05) scale(0.32)" fill="#5a3e98" stroke="#5a3e98" textLength="258.3" lengthAdjust="spacingAndGlyphs">KT284981_91_IT_1_SVDV</text>
<text transform="translate(402.3,119.62) rotate(0.05) scale(0.32)" fill="#5a3e98" stroke="#5a3e98" textLength="258.3" lengthAdjust="spacingAndGlyphs">KT284982_91_IT_2_SVDV</text>
<text transform="translate(402.3,123.31) rotate(0.05) scale(0.32)" fill="#5a3e98" stroke="#5a3e98" textLength="260.7" lengthAdjust="spacingAndGlyphs">KT284980_89_IT_A_SVDV</text>
<text transform="translate(402.3,127.00) rotate(0.05) scale(0.32)" fill="#5a3e98" stroke="#5a3e98" textLength="292.7" lengthAdjust="spacingAndGlyphs">KT284981_73_UK_306_SVDV</text>
<text transform="translate(402.3,130.69) rotate(0.05) scale(0.32)" fill="#5a3e98" stroke="#5a3e98" textLength="255.9" lengthAdjust="spacingAndGlyphs">X84981_73_UK_27_SVDV</text>
<text transform="translate(402.3,134.38) rotate(0.05) scale(0.32)" fill="#5a3e98" stroke="#5a3e98" textLength="260.7" lengthAdjust="spacingAndGlyphs">KT285005_77_IT_A_SVDV</text>
<text transform="translate(402.3,138.07) rotate(0.05) scale(0.32)" fill="#5a3e98" stroke="#5a3e98" textLength="265.0" lengthAdjust="spacingAndGlyphs">KT284994_73_AT_1_SVDV</text>
<text transform="translate(402.3,141.77) rotate(0.05) scale(0.32)" fill="#5a3e98" stroke="#5a3e98" textLength="265.4" lengthAdjust="spacingAndGlyphs">KT284998_73_PL_1_SVDV</text>
<text transform="translate(402.3,145.46) rotate(0.05) scale(0.32)" fill="#5a3e98" stroke="#5a3e98" textLength="282.0" lengthAdjust="spacingAndGlyphs">KT284989_75_MT_22_SVDV</text>
<text transform="translate(402.3,149.15) rotate(0.05) scale(0.32)" fill="#5a3e98" stroke="#5a3e98" textLength="271.3" lengthAdjust="spacingAndGlyphs">KT284990_79_GR_1_SVDV</text>
<text transform="translate(402.3,152.84) rotate(0.05) scale(0.32)" fill="#5a3e98" stroke="#5a3e98" textLength="269.0" lengthAdjust="spacingAndGlyphs">KT284985_83_HK_1_SVDV</text>
<text transform="translate(402.3,156.53) rotate(0.05) scale(0.32)" fill="#5a3e98" stroke="#5a3e98" textLength="269.0" lengthAdjust="spacingAndGlyphs">KT284984_81_HK_7_SVDV</text>
<text transform="translate(402.3,160.22) rotate(0.05) scale(0.32)" fill="#5a3e98" stroke="#5a3e98" textLength="280.8" lengthAdjust="spacingAndGlyphs">KT284988_87_HK_12_SVDV</text>
<text transform="translate(402.3,163.91) rotate(0.05) scale(0.32)" fill="#5a3e98" stroke="#5a3e98" textLength="269.0" lengthAdjust="spacingAndGlyphs">KT285003_89_HK_4_SVDV</text>
<text transform="translate(402.3,167.61) rotate(0.05) scale(0.32)" fill="#5a3e98" stroke="#5a3e98" textLength="269.0" lengthAdjust="spacingAndGlyphs">KT284983_80_HK_1_SVDV</text>
<text transform="translate(402.3,171.30) rotate(0.05) scale(0.32)" fill="#5a3e98" stroke="#5a3e98" textLength="251.2" lengthAdjust="spacingAndGlyphs">D16364_73_JP_J1_SVDV</text>
<text transform="translate(402.3,174.99) rotate(0.05) scale(0.32)" fill="#5a3e98" stroke="#5a3e98" textLength="255.9" lengthAdjust="spacingAndGlyphs">D00435_76_JP_H3_SVDV</text>
<text transform="translate(402.3,178.68) rotate(0.05) scale(0.32)" fill="#5a3e98" stroke="#5a3e98" textLength="279.2" lengthAdjust="spacingAndGlyphs">KT285000_72_HK_11_SVDV</text>
<text transform="translate(402.3,182.37) rotate(0.05) scale(0.32)" fill="#5a3e98" stroke="#5a3e98" textLength="280.8" lengthAdjust="spacingAndGlyphs">KF863278_78_HK_26_SVDV</text>
<text transform="translate(402.3,186.06) rotate(0.05) scale(0.32)" fill="#5a3e98" stroke="#5a3e98" textLength="310.0" lengthAdjust="spacingAndGlyphs">AY429470_79_HK_HK79_SVDV</text>
<text transform="translate(402.3,189.75) rotate(0.05) scale(0.32)" fill="#4e4896" stroke="#4e4896" textLength="269.0" lengthAdjust="spacingAndGlyphs">KT284997_72_US_5_SVDV</text>
<text transform="translate(402.3,193.45) rotate(0.05) scale(0.32)" fill="#4e4896" stroke="#4e4896" textLength="267.8" lengthAdjust="spacingAndGlyphs">KT284995_75_FR_1_SVDV</text>
<text transform="translate(402.3,197.14) rotate(0.05) scale(0.32)" fill="#4e4896" stroke="#4e4896" textLength="269.0" lengthAdjust="spacingAndGlyphs">KF863275_73_HK_5_SVDV</text>
<text transform="translate(402.3,200.83) rotate(0.05) scale(0.32)" fill="#4e4896" stroke="#4e4896" textLength="270.2" lengthAdjust="spacingAndGlyphs">KT284979_71_BG_3_SVDV</text>
<text transform="translate(402.3,204.52) rotate(0.05) scale(0.32)" fill="#4e4896" stroke="#4e4896" textLength="280.8" lengthAdjust="spacingAndGlyphs">KT284996_71_HK_16_SVDV</text>
<text transform="translate(402.3,208.21) rotate(0.05) scale(0.32)" fill="#4e4896" stroke="#4e4896" textLength="280.8" lengthAdjust="spacingAndGlyphs">KT285999_70_HK_19_SVDV</text>
<text transform="translate(402.3,211.90) rotate(0.05) scale(0.32)" fill="#4e4896" stroke="#4e4896" textLength="258.3" lengthAdjust="spacingAndGlyphs">KT284997_66_IT_1_SVDV</text>
<text transform="translate(402.3,215.60) rotate(0.05) scale(0.32)" fill="#2a86c0" stroke="#2a86c0" textLength="227.5" lengthAdjust="spacingAndGlyphs">AB541410_01_TW_007</text>
<text transform="translate(402.3,219.29) rotate(0.05) scale(0.32)" fill="#2a86c0" stroke="#2a86c0" textLength="227.5" lengthAdjust="spacingAndGlyphs">AB541404_01_TW_004</text>
<text transform="translate(402.3,222.98) rotate(0.05) scale(0.32)" fill="#2a86c0" stroke="#2a86c0" textLength="227.5" lengthAdjust="spacingAndGlyphs">AB541405_01_TW_003</text>
<text transform="translate(402.3,226.67) rotate(0.05) scale(0.32)" fill="#2a86c0" stroke="#2a86c0" textLength="227.5" lengthAdjust="spacingAndGlyphs">AB541401_01_TW_006</text>
<text transform="translate(402.3,230.36) rotate(0.05) scale(0.32)" fill="#2a86c0" stroke="#2a86c0" textLength="314.0" lengthAdjust="spacingAndGlyphs">HF948071_07_DK_COPW38491</text>
<text transform="translate(402.3,234.05) rotate(0.05) scale(0.32)" fill="#2a86c0" stroke="#2a86c0" textLength="227.5" lengthAdjust="spacingAndGlyphs">AB541322_02_TW_012</text>
<text transform="translate(402.3,237.74) rotate(0.05) scale(0.32)" fill="#2a86c0" stroke="#2a86c0" textLength="227.5" lengthAdjust="spacingAndGlyphs">AB541320_02_TW_009</text>
<text transform="translate(402.3,241.44) rotate(0.05) scale(0.32)" fill="#2a86c0" stroke="#2a86c0" textLength="227.5" lengthAdjust="spacingAndGlyphs">AB541412_05_TW_025</text>
<text transform="translate(402.3,245.13) rotate(0.05) scale(0.32)" fill="#2a86c0" stroke="#2a86c0" textLength="233.0" lengthAdjust="spacingAndGlyphs">AY876592_00_KR_KOR</text>
<text transform="translate(402.3,248.82) rotate(0.05) scale(0.32)" fill="#2a86c0" stroke="#2a86c0" textLength="282.0" lengthAdjust="spacingAndGlyphs">HF948061_03_DE_OELD308</text>
<text transform="translate(402.3,252.51) rotate(0.05) scale(0.32)" fill="#2a86c0" stroke="#2a86c0" textLength="274.5" lengthAdjust="spacingAndGlyphs">HF948052_96_FR_CF1107F</text>
<text transform="translate(402.3,256.20) rotate(0.05) scale(0.32)" fill="#2a86c0" stroke="#2a86c0" textLength="309.2" lengthAdjust="spacingAndGlyphs">HF948076_01_DK_COPH20541</text>
<text transform="translate(402.3,259.89) rotate(0.05) scale(0.32)" fill="#2a86c0" stroke="#2a86c0" textLength="287.5" lengthAdjust="spacingAndGlyphs">HF948180_04_FR_LYO28741</text>
<text transform="translate(402.3,263.58) rotate(0.05) scale(0.32)" fill="#2a86c0" stroke="#2a86c0" textLength="259.5" lengthAdjust="spacingAndGlyphs">HF948178_05_FR_NIC717</text>
<text transform="translate(402.3,267.28) rotate(0.05) scale(0.32)" fill="#2a86c0" stroke="#2a86c0" textLength="248.9" lengthAdjust="spacingAndGlyphs">GU300063_96_NL_17088</text>
<text transform="translate(402.3,270.97) rotate(0.05) scale(0.32)" fill="#2a86c0" stroke="#2a86c0" textLength="248.9" lengthAdjust="spacingAndGlyphs">GU300066_99_NL_16763</text>
<text transform="translate(402.3,274.66) rotate(0.05) scale(0.32)" fill="#2a86c0" stroke="#2a86c0" textLength="227.5" lengthAdjust="spacingAndGlyphs">AB541407_02_TW_016</text>
<text transform="translate(402.3,278.35) rotate(0.05) scale(0.32)" fill="#2a86c0" stroke="#2a86c0" textLength="227.5" lengthAdjust="spacingAndGlyphs">AB541408_05_TW_026</text>
<text transform="translate(402.3,282.04) rotate(0.05) scale(0.32)" fill="#2a86c0" stroke="#2a86c0" textLength="227.5" lengthAdjust="spacingAndGlyphs">AB541403_02_TW_022</text>
<text transform="translate(402.3,285.73) rotate(0.05) scale(0.32)" fill="#2a86c0" stroke="#2a86c0" textLength="227.5" lengthAdjust="spacingAndGlyphs">AB541406_02_TW_018</text>
<text transform="translate(402.3,289.43) rotate(0.05) scale(0.32)" fill="#2a86c0" stroke="#2a86c0" textLength="227.5" lengthAdjust="spacingAndGlyphs">AB541518_05_TW_028</text>
<text transform="translate(402.3,293.12) rotate(0.05) scale(0.32)" fill="#2a86c0" stroke="#2a86c0" textLength="227.5" lengthAdjust="spacingAndGlyphs">AB541319_02_TW_024</text>
<text transform="translate(402.3,296.81) rotate(0.05) scale(0.32)" fill="#2a86c0" stroke="#2a86c0" textLength="227.5" lengthAdjust="spacingAndGlyphs">AB541321_02_TW_019</text>
<text transform="translate(402.3,300.50) rotate(0.05) scale(0.32)" fill="#2a86c0" stroke="#2a86c0" textLength="227.5" lengthAdjust="spacingAndGlyphs">AB541516_05_TW_051</text>
<text transform="translate(402.3,304.19) rotate(0.05) scale(0.32)" fill="#2a86c0" stroke="#2a86c0" textLength="253.6" lengthAdjust="spacingAndGlyphs">GQ329771_98_CN_96386</text>
<text transform="translate(402.3,307.88) rotate(0.05) scale(0.32)" fill="#2a86c0" stroke="#2a86c0" textLength="271.4" lengthAdjust="spacingAndGlyphs">KU189233_99_PL_366PL14</text>
<text transform="translate(402.3,311.57) rotate(0.05) scale(0.32)" fill="#2a86c0" stroke="#2a86c0" textLength="309.2" lengthAdjust="spacingAndGlyphs">HF948072_02_DK_COPH55546</text>
<text transform="translate(402.3,315.27) rotate(0.05) scale(0.32)" fill="#2a86c0" stroke="#2a86c0" textLength="227.5" lengthAdjust="spacingAndGlyphs">AB585615_95_TW_039</text>
<text transform="translate(402.3,318.96) rotate(0.05) scale(0.32)" fill="#5a5a66" stroke="#5a5a66" textLength="250.0" lengthAdjust="spacingAndGlyphs">KT285012_83_TW_93083</text>
<text transform="translate(402.3,322.65) rotate(0.05) scale(0.32)" fill="#5a5a66" stroke="#5a5a66" textLength="278.4" lengthAdjust="spacingAndGlyphs">GU323670_70_RO_61rom70</text>
<text transform="translate(402.3,326.34) rotate(0.05) scale(0.32)" fill="#2a58a8" stroke="#2a58a8" textLength="227.5" lengthAdjust="spacingAndGlyphs">AB541517_14_TW_045</text>
<text transform="translate(402.3,330.03) rotate(0.05) scale(0.32)" fill="#2a58a8" stroke="#2a58a8" textLength="227.5" lengthAdjust="spacingAndGlyphs">AB595615_14_TW_044</text>
<text transform="translate(402.3,333.72) rotate(0.05) scale(0.32)" fill="#2a58a8" stroke="#2a58a8" textLength="238.2" lengthAdjust="spacingAndGlyphs">KF289436_13_CN_P727</text>
<text transform="translate(402.3,337.41) rotate(0.05) scale(0.32)" fill="#2a58a8" stroke="#2a58a8" textLength="227.5" lengthAdjust="spacingAndGlyphs">AB541402_15_TW_046</text>
<text transform="translate(402.3,341.11) rotate(0.05) scale(0.32)" fill="#2a58a8" stroke="#2a58a8" textLength="247.7" lengthAdjust="spacingAndGlyphs">LC128346_14_CN_14062</text>
<text transform="translate(402.3,344.80) rotate(0.05) scale(0.32)" fill="#2a58a8" stroke="#2a58a8" textLength="227.5" lengthAdjust="spacingAndGlyphs">AB541409_15_TW_047</text>
<text transform="translate(402.3,348.49) rotate(0.05) scale(0.32)" fill="#2a58a8" stroke="#2a58a8" textLength="259.1" lengthAdjust="spacingAndGlyphs">JX817355_11_CN_31801N</text>
<text transform="translate(402.3,352.18) rotate(0.05) scale(0.32)" fill="#2a58a8" stroke="#2a58a8" textLength="226.3" lengthAdjust="spacingAndGlyphs">KU138648_14_RU_439</text>
<text transform="translate(402.3,355.87) rotate(0.05) scale(0.32)" fill="#2a58a8" stroke="#2a58a8" textLength="247.7" lengthAdjust="spacingAndGlyphs">LC128346_14_CN_14001</text>
<text transform="translate(402.3,359.56) rotate(0.05) scale(0.32)" fill="#2a58a8" stroke="#2a58a8" textLength="222.4" lengthAdjust="spacingAndGlyphs">JX817352_11_CN_17Y</text>
<text transform="translate(402.3,363.26) rotate(0.05) scale(0.32)" fill="#2a58a8" stroke="#2a58a8" textLength="225.2" lengthAdjust="spacingAndGlyphs">KP266577_09_CN_154</text>
<text transform="translate(402.3,366.95) rotate(0.05) scale(0.32)" fill="#2a58a8" stroke="#2a58a8" textLength="255.9" lengthAdjust="spacingAndGlyphs">GQ246516_06_CN_Y2081</text>
<text transform="translate(402.3,370.64) rotate(0.05) scale(0.32)" fill="#2a58a8" stroke="#2a58a8" textLength="225.9" lengthAdjust="spacingAndGlyphs">AB685414_11_TW_043</text>
<text transform="translate(402.3,374.33) rotate(0.05) scale(0.32)" fill="#2a58a8" stroke="#2a58a8" textLength="224.3" lengthAdjust="spacingAndGlyphs">AB685411_11_TW_035</text>
<text transform="translate(402.3,378.02) rotate(0.05) scale(0.32)" fill="#2a58a8" stroke="#2a58a8" textLength="225.9" lengthAdjust="spacingAndGlyphs">AB685409_11_TW_031</text>
<text transform="translate(402.3,381.71) rotate(0.05) scale(0.32)" fill="#2a58a8" stroke="#2a58a8" textLength="225.9" lengthAdjust="spacingAndGlyphs">AB685410_11_TW_032</text>
<text transform="translate(402.3,385.40) rotate(0.05) scale(0.32)" fill="#2a58a8" stroke="#2a58a8" textLength="234.2" lengthAdjust="spacingAndGlyphs">JX845811_09_CN_A218</text>
<text transform="translate(402.3,389.10) rotate(0.05) scale(0.32)" fill="#2a58a8" stroke="#2a58a8" textLength="322.3" lengthAdjust="spacingAndGlyphs">KC867064_12_CN_JB141220179</text>
<text transform="translate(402.3,392.79) rotate(0.05) scale(0.32)" fill="#2a58a8" stroke="#2a58a8" textLength="247.7" lengthAdjust="spacingAndGlyphs">LC128368_14_CN_14238</text>
<text transform="translate(402.3,396.48) rotate(0.05) scale(0.32)" fill="#2a58a8" stroke="#2a58a8" textLength="224.0" lengthAdjust="spacingAndGlyphs">LC128566_15_CN_227</text>
<text transform="translate(402.3,400.17) rotate(0.05) scale(0.32)" fill="#2a58a8" stroke="#2a58a8" textLength="225.9" lengthAdjust="spacingAndGlyphs">AB685412_11_TW_034</text>
<text transform="translate(402.3,403.86) rotate(0.05) scale(0.32)" fill="#2a58a8" stroke="#2a58a8" textLength="225.9" lengthAdjust="spacingAndGlyphs">AB685413_11_TW_038</text>
<text transform="translate(402.3,407.55) rotate(0.05) scale(0.32)" fill="#2a58a8" stroke="#2a58a8" textLength="208.2" lengthAdjust="spacingAndGlyphs">JX817361_11_CN_19</text>
<text transform="translate(402.3,411.24) rotate(0.05) scale(0.32)" fill="#2a58a8" stroke="#2a58a8" textLength="253.2" lengthAdjust="spacingAndGlyphs">JX817360_11_CN_20GSP</text>
<text transform="translate(402.3,414.94) rotate(0.05) scale(0.32)" fill="#2a58a8" stroke="#2a58a8" textLength="210.9" lengthAdjust="spacingAndGlyphs">JN695060_10_CN_16</text>
<text transform="translate(402.3,418.63) rotate(0.05) scale(0.32)" fill="#2a58a8" stroke="#2a58a8" textLength="252.4" lengthAdjust="spacingAndGlyphs">GU372614_05_CN_90705</text>
<text transform="translate(402.3,422.32) rotate(0.05) scale(0.32)" fill="#2a58a8" stroke="#2a58a8" textLength="225.2" lengthAdjust="spacingAndGlyphs">KP266578_09_CN_148</text>
<text transform="translate(402.3,426.01) rotate(0.05) scale(0.32)" fill="#2a58a8" stroke="#2a58a8" textLength="234.6" lengthAdjust="spacingAndGlyphs">GU376747_06_CN_SH1</text>
<text transform="translate(402.3,429.70) rotate(0.05) scale(0.32)" fill="#2a58a8" stroke="#2a58a8" textLength="227.5" lengthAdjust="spacingAndGlyphs">AB541413_05_TW_030</text>
<text transform="translate(402.3,433.39) rotate(0.05) scale(0.32)" fill="#2a58a8" stroke="#2a58a8" textLength="227.5" lengthAdjust="spacingAndGlyphs">AB541414_05_TW_029</text>
<text transform="translate(402.3,437.09) rotate(0.05) scale(0.32)" fill="#2a58a8" stroke="#2a58a8" textLength="248.9" lengthAdjust="spacingAndGlyphs">EU604863_05_KR_4652n</text>
<text transform="translate(402.3,440.78) rotate(0.05) scale(0.32)" fill="#2a58a8" stroke="#2a58a8" textLength="286.7" lengthAdjust="spacingAndGlyphs">HF948132_05_FR_CF186106</text>
<text transform="translate(402.3,444.47) rotate(0.05) scale(0.32)" fill="#2a58a8" stroke="#2a58a8" textLength="250.0" lengthAdjust="spacingAndGlyphs">AM718996_05_FR_17668</text>
<text transform="translate(402.3,448.16) rotate(0.05) scale(0.32)" fill="#2a58a8" stroke="#2a58a8" textLength="280.8" lengthAdjust="spacingAndGlyphs">HF948241_06_CY_LARN066</text>
<text transform="translate(402.3,451.85) rotate(0.05) scale(0.32)" fill="#2a58a8" stroke="#2a58a8" textLength="252.4" lengthAdjust="spacingAndGlyphs">GQ262394_05_BY_F4063</text>
<text transform="translate(402.3,455.54) rotate(0.05) scale(0.32)" fill="#2a58a8" stroke="#2a58a8" textLength="211.7" lengthAdjust="spacingAndGlyphs">KP266576_10_CN_11</text>
<text transform="translate(402.3,459.23) rotate(0.05) scale(0.32)" fill="#2a58a8" stroke="#2a58a8" textLength="225.2" lengthAdjust="spacingAndGlyphs">KP266575_10_CN_101</text>
<text transform="translate(402.3,462.93) rotate(0.05) scale(0.32)" fill="#2a58a8" stroke="#2a58a8" textLength="305.3" lengthAdjust="spacingAndGlyphs">HF948070_08_DK_COPT11098</text>
<text transform="translate(402.3,466.62) rotate(0.05) scale(0.32)" fill="#2a58a8" stroke="#2a58a8" textLength="211.7" lengthAdjust="spacingAndGlyphs">AY695108_03_CN_12</text>
<text transform="translate(402.3,470.31) rotate(0.05) scale(0.32)" fill="#2a58a8" stroke="#2a58a8" textLength="209.7" lengthAdjust="spacingAndGlyphs">JX276376_09_CN_69</text>
<text transform="translate(402.3,474.00) rotate(0.05) scale(0.32)" fill="#2a58a8" stroke="#2a58a8" textLength="240.5" lengthAdjust="spacingAndGlyphs">JN712670_09_CN_CS26</text>
<text transform="translate(402.3,477.69) rotate(0.05) scale(0.32)" fill="#2a58a8" stroke="#2a58a8" textLength="306.9" lengthAdjust="spacingAndGlyphs">HF948065_10_DK_COPT37127</text>
<text transform="translate(402.3,481.38) rotate(0.05) scale(0.32)" fill="#2a58a8" stroke="#2a58a8" textLength="259.5" lengthAdjust="spacingAndGlyphs">HF948247_10_CY_LIM561</text>
<text transform="translate(402.3,485.07) rotate(0.05) scale(0.32)" fill="#2a58a8" stroke="#2a58a8" textLength="247.7" lengthAdjust="spacingAndGlyphs">LC128353_07_CN_27271</text>
<text transform="translate(402.3,488.77) rotate(0.05) scale(0.32)" fill="#2a58a8" stroke="#2a58a8" textLength="224.0" lengthAdjust="spacingAndGlyphs">KF246704_10_CN_079</text>
<text transform="translate(402.3,492.46) rotate(0.05) scale(0.32)" fill="#5a5a66" stroke="#5a5a66" textLength="287.5" lengthAdjust="spacingAndGlyphs">KR232734_11_MG_MAD5253</text>
<text transform="translate(402.3,496.15) rotate(0.05) scale(0.32)" fill="#1e3a74" stroke="#1e3a74" textLength="268.9" lengthAdjust="spacingAndGlyphs">HF948050_05_FR_GRE684</text>
<text transform="translate(402.3,499.84) rotate(0.05) scale(0.32)" fill="#1e3a74" stroke="#1e3a74" textLength="279.2" lengthAdjust="spacingAndGlyphs">HF948185_04_FR_GRE1196</text>
<text transform="translate(402.3,503.53) rotate(0.05) scale(0.32)" fill="#1e3a74" stroke="#1e3a74" textLength="271.3" lengthAdjust="spacingAndGlyphs">HF948045_03_FR_AMO700</text>
<text transform="translate(402.3,507.22) rotate(0.05) scale(0.32)" fill="#1e3a74" stroke="#1e3a74" textLength="286.7" lengthAdjust="spacingAndGlyphs">HF948124_02_FR_CF299054</text>
<text transform="translate(402.3,510.92) rotate(0.05) scale(0.32)" fill="#1e3a74" stroke="#1e3a74" textLength="287.5" lengthAdjust="spacingAndGlyphs">HF948160_03_FR_LYO23348</text>
<text transform="translate(402.3,514.61) rotate(0.05) scale(0.32)" fill="#1e3a74" stroke="#1e3a74" textLength="279.6" lengthAdjust="spacingAndGlyphs">HF948177_03_FR_NAN0627</text>
<text transform="translate(402.3,518.30) rotate(0.05) scale(0.32)" fill="#1e3a74" stroke="#1e3a74" textLength="287.5" lengthAdjust="spacingAndGlyphs">HF948151_01_FR_LYO18815</text>
<text transform="translate(402.3,521.99) rotate(0.05) scale(0.32)" fill="#1e3a74" stroke="#1e3a74" textLength="286.7" lengthAdjust="spacingAndGlyphs">HF948028_06_FR_CF202076</text>
<text transform="translate(402.3,525.68) rotate(0.05) scale(0.32)" fill="#1e3a74" stroke="#1e3a74" textLength="284.4" lengthAdjust="spacingAndGlyphs">HF948203_07_FR_LYO41112</text>
<text transform="translate(402.3,529.37) rotate(0.05) scale(0.32)" fill="#1e3a74" stroke="#1e3a74" textLength="287.5" lengthAdjust="spacingAndGlyphs">HF948847_02_FR_LYO17184</text>
<text transform="translate(402.3,533.06) rotate(0.05) scale(0.32)" fill="#1e3a74" stroke="#1e3a74" textLength="282.0" lengthAdjust="spacingAndGlyphs">HF948166_00_FR_LIM14928</text>
<text transform="translate(402.3,536.76) rotate(0.05) scale(0.32)" fill="#1e3a74" stroke="#1e3a74" textLength="270.1" lengthAdjust="spacingAndGlyphs">GU323871_96_FR_Fra9610</text>
<text transform="translate(402.3,540.45) rotate(0.05) scale(0.32)" fill="#1e3a74" stroke="#1e3a74" textLength="248.9" lengthAdjust="spacingAndGlyphs">GU300066_96_NL_23956</text>
<text transform="translate(402.3,544.14) rotate(0.05) scale(0.32)" fill="#1e3a74" stroke="#1e3a74" textLength="259.5" lengthAdjust="spacingAndGlyphs">HF948226_96_CY_LIM293</text>
<text transform="translate(402.3,547.83) rotate(0.05) scale(0.32)" fill="#1e3a74" stroke="#1e3a74" textLength="259.5" lengthAdjust="spacingAndGlyphs">HF948233_96_CY_LIM009</text>
<text transform="translate(402.3,551.52) rotate(0.05) scale(0.32)" fill="#5a5a66" stroke="#5a5a66" textLength="241.7" lengthAdjust="spacingAndGlyphs">JX813666_08_IN_A072D</text>
<text transform="translate(402.3,555.21) rotate(0.05) scale(0.32)" fill="#1a2e5a" stroke="#1a2e5a" textLength="221.6" lengthAdjust="spacingAndGlyphs">KT285014_91_PK_828</text>
<text transform="translate(402.3,558.90) rotate(0.05) scale(0.32)" fill="#1a2e5a" stroke="#1a2e5a" textLength="240.6" lengthAdjust="spacingAndGlyphs">GU300060_90_PK_P028</text>
<text transform="translate(402.3,562.60) rotate(0.05) scale(0.32)" fill="#1a2e5a" stroke="#1a2e5a" textLength="240.6" lengthAdjust="spacingAndGlyphs">GU300069_92_KG_4804</text>
<text transform="translate(402.3,566.29) rotate(0.05) scale(0.32)" fill="#1a2e5a" stroke="#1a2e5a" textLength="291.5" lengthAdjust="spacingAndGlyphs">GU323874_89_RS_2889kyr89</text>
<text transform="translate(402.3,569.98) rotate(0.05) scale(0.32)" fill="#5a5a66" stroke="#5a5a66" textLength="240.5" lengthAdjust="spacingAndGlyphs">GU300061_95_RU_5559</text>
<text transform="translate(402.3,573.67) rotate(0.05) scale(0.32)" fill="#5a5a66" stroke="#5a5a66" textLength="274.9" lengthAdjust="spacingAndGlyphs">GU323873_89_FI_2734fin89</text>
<text transform="translate(402.3,577.36) rotate(0.05) scale(0.32)" fill="#d07a2a" stroke="#d07a2a" textLength="283.2" lengthAdjust="spacingAndGlyphs">KU189258_01_PL_1026PL05</text>
<text transform="translate(402.3,581.05) rotate(0.05) scale(0.32)" fill="#d07a2a" stroke="#d07a2a" textLength="268.6" lengthAdjust="spacingAndGlyphs">AF114382_52_US_Faulkner</text>
<text transform="translate(402.3,584.75) rotate(0.05) scale(0.32)" fill="#d07a2a" stroke="#d07a2a" textLength="263.0" lengthAdjust="spacingAndGlyphs">HF948026_77_FR_CF9073</text>
<text transform="translate(402.3,588.44) rotate(0.05) scale(0.32)" fill="#d07a2a" stroke="#d07a2a" textLength="239.4" lengthAdjust="spacingAndGlyphs">GU565666_74_EC_8651</text>
<text transform="translate(402.3,592.13) rotate(0.05) scale(0.32)" fill="#2a5a2e" stroke="#2a5a2e" textLength="306.9" lengthAdjust="spacingAndGlyphs">HF948069_09_DK_COPT39867</text>
<text transform="translate(402.3,595.82) rotate(0.05) scale(0.32)" fill="#2a5a2e" stroke="#2a5a2e" textLength="283.2" lengthAdjust="spacingAndGlyphs">HF948224_09_DE_FRAO472</text>
<text transform="translate(402.3,599.51) rotate(0.05) scale(0.32)" fill="#2a5a2e" stroke="#2a5a2e" textLength="314.8" lengthAdjust="spacingAndGlyphs">HF948042_09_FR_TOU1943454</text>
<text transform="translate(402.3,603.20) rotate(0.05) scale(0.32)" fill="#2a5a2e" stroke="#2a5a2e" textLength="258.3" lengthAdjust="spacingAndGlyphs">HF948276_09_AU_VIE187</text>
<text transform="translate(402.3,606.89) rotate(0.05) scale(0.32)" fill="#2a5a2e" stroke="#2a5a2e" textLength="244.1" lengthAdjust="spacingAndGlyphs">HF948066_09_IT_BOL26</text>
<text transform="translate(402.3,610.59) rotate(0.05) scale(0.32)" fill="#2a5a2e" stroke="#2a5a2e" textLength="287.5" lengthAdjust="spacingAndGlyphs">HF948194_06_FR_LYO36086</text>
<text transform="translate(402.3,614.28) rotate(0.05) scale(0.32)" fill="#2a5a2e" stroke="#2a5a2e" textLength="268.9" lengthAdjust="spacingAndGlyphs">HF948212_09_FR_ANG817</text>
<text transform="translate(402.3,617.97) rotate(0.05) scale(0.32)" fill="#2a5a2e" stroke="#2a5a2e" textLength="314.0" lengthAdjust="spacingAndGlyphs">HF948067_10_DK_COPW48083</text>
<text transform="translate(402.3,621.66) rotate(0.05) scale(0.32)" fill="#2a5a2e" stroke="#2a5a2e" textLength="254.7" lengthAdjust="spacingAndGlyphs">HF948275_09_DE_STU27</text>
<text transform="translate(402.3,625.35) rotate(0.05) scale(0.32)" fill="#2a5a2e" stroke="#2a5a2e" textLength="285.2" lengthAdjust="spacingAndGlyphs">HF948146_11_FR_CF193612</text>
<text transform="translate(402.3,629.04) rotate(0.05) scale(0.32)" fill="#2a5a2e" stroke="#2a5a2e" textLength="282.0" lengthAdjust="spacingAndGlyphs">HF948055_10_HU_BUD4063</text>
<text transform="translate(402.3,632.73) rotate(0.05) scale(0.32)" fill="#2a5a2e" stroke="#2a5a2e" textLength="278.1" lengthAdjust="spacingAndGlyphs">HF948062_06_DE_BER1109</text>
<text transform="translate(402.3,636.43) rotate(0.05) scale(0.32)" fill="#2a5a2e" stroke="#2a5a2e" textLength="287.5" lengthAdjust="spacingAndGlyphs">HF948186_06_FR_LYO28186</text>
<text transform="translate(402.3,640.12) rotate(0.05) scale(0.32)" fill="#2a5a2e" stroke="#2a5a2e" textLength="314.0" lengthAdjust="spacingAndGlyphs">HF948264_07_DK_COPW55873</text>
<text transform="translate(402.3,643.81) rotate(0.05) scale(0.32)" fill="#2a5a2e" stroke="#2a5a2e" textLength="267.8" lengthAdjust="spacingAndGlyphs">HF948063_06_DE_BER390</text>
<text transform="translate(402.3,647.50) rotate(0.05) scale(0.32)" fill="#2a5a2e" stroke="#2a5a2e" textLength="254.7" lengthAdjust="spacingAndGlyphs">HF948274_05_DE_STU82</text>
<text transform="translate(402.3,651.19) rotate(0.05) scale(0.32)" fill="#2a5a2e" stroke="#2a5a2e" textLength="288.7" lengthAdjust="spacingAndGlyphs">AM711680_05_FR_CF157667</text>
<text transform="translate(402.3,654.88) rotate(0.05) scale(0.32)" fill="#2a5a2e" stroke="#2a5a2e" textLength="280.8" lengthAdjust="spacingAndGlyphs">HF948225_10_DE_NEU6546</text>
<text transform="translate(402.3,658.58) rotate(0.05) scale(0.32)" fill="#2a5a2e" stroke="#2a5a2e" textLength="287.5" lengthAdjust="spacingAndGlyphs">HF948085_10_FR_LYO23169</text>
<text transform="translate(402.3,662.27) rotate(0.05) scale(0.32)" fill="#2a5a2e" stroke="#2a5a2e" textLength="327.8" lengthAdjust="spacingAndGlyphs">HF948040_11_FR_CF199017CSF</text>
<text transform="translate(402.3,665.96) rotate(0.05) scale(0.32)" fill="#2a5a2e" stroke="#2a5a2e" textLength="260.7" lengthAdjust="spacingAndGlyphs">HF948245_09_CY_NIC221</text>
<text transform="translate(402.3,669.65) rotate(0.05) scale(0.32)" fill="#2a5a2e" stroke="#2a5a2e" textLength="287.5" lengthAdjust="spacingAndGlyphs">HF948087_06_FR_LYO29314</text>
<text transform="translate(402.3,673.34) rotate(0.05) scale(0.32)" fill="#2a5a2e" stroke="#2a5a2e" textLength="287.5" lengthAdjust="spacingAndGlyphs">HF948056_05_FR_LYO37194</text>
<text transform="translate(402.3,677.03) rotate(0.05) scale(0.32)" fill="#2a5a2e" stroke="#2a5a2e" textLength="327.8" lengthAdjust="spacingAndGlyphs">HF948135_10_FR_CF184011CSF</text>
<text transform="translate(402.3,680.72) rotate(0.05) scale(0.32)" fill="#2a5a2e" stroke="#2a5a2e" textLength="266.6" lengthAdjust="spacingAndGlyphs">HF948088_06_FR_BRE722</text>
<text transform="translate(402.3,684.42) rotate(0.05) scale(0.32)" fill="#2a5a2e" stroke="#2a5a2e" textLength="288.7" lengthAdjust="spacingAndGlyphs">AM711093_06_FR_CF216024</text>
<text transform="translate(402.3,688.11) rotate(0.05) scale(0.32)" fill="#2a5a2e" stroke="#2a5a2e" textLength="266.6" lengthAdjust="spacingAndGlyphs">HF948063_06_FR_BRE716</text>
<text transform="translate(402.3,691.80) rotate(0.05) scale(0.32)" fill="#2a5a2e" stroke="#2a5a2e" textLength="252.4" lengthAdjust="spacingAndGlyphs">GQ362396_06_BY_F6669</text>
<text transform="translate(402.3,695.49) rotate(0.05) scale(0.32)" fill="#2a5a2e" stroke="#2a5a2e" textLength="259.5" lengthAdjust="spacingAndGlyphs">GQ362398_07_BY_W6683</text>
<text transform="translate(402.3,699.18) rotate(0.05) scale(0.32)" fill="#2a5a2e" stroke="#2a5a2e" textLength="260.7" lengthAdjust="spacingAndGlyphs">HF948242_05_CY_NIC880</text>
<text transform="translate(402.3,702.87) rotate(0.05) scale(0.32)" fill="#2a5a2e" stroke="#2a5a2e" textLength="245.3" lengthAdjust="spacingAndGlyphs">KT285016_92_FR_17426</text>
<text transform="translate(402.3,706.56) rotate(0.05) scale(0.32)" fill="#2a5a2e" stroke="#2a5a2e" textLength="234.6" lengthAdjust="spacingAndGlyphs">KT285017_92_UK_4287</text>
<text transform="translate(402.3,710.26) rotate(0.05) scale(0.32)" fill="#2a5a2e" stroke="#2a5a2e" textLength="283.2" lengthAdjust="spacingAndGlyphs">HF948665_98_DE_FRAO575</text>
<text transform="translate(402.3,713.95) rotate(0.05) scale(0.32)" fill="#2a5a2e" stroke="#2a5a2e" textLength="311.6" lengthAdjust="spacingAndGlyphs">HF948265_06_DK_COPM21005</text>
<text transform="translate(402.3,717.64) rotate(0.05) scale(0.32)" fill="#2a5a2e" stroke="#2a5a2e" textLength="283.2" lengthAdjust="spacingAndGlyphs">HF948054_10_DE_FRAO298</text>
<text transform="translate(402.3,721.33) rotate(0.05) scale(0.32)" fill="#2a5a2e" stroke="#2a5a2e" textLength="266.6" lengthAdjust="spacingAndGlyphs">HF948278_04_DE_STU187</text>
<text transform="translate(402.3,725.02) rotate(0.05) scale(0.32)" fill="#2a5a2e" stroke="#2a5a2e" textLength="276.0" lengthAdjust="spacingAndGlyphs">HF948222_07_DE_MAGD26</text>
<text transform="translate(402.3,728.71) rotate(0.05) scale(0.32)" fill="#2a5a2e" stroke="#2a5a2e" textLength="311.6" lengthAdjust="spacingAndGlyphs">HF948269_04_DK_COPM69744</text>
<text transform="translate(402.3,732.41) rotate(0.05) scale(0.32)" fill="#2a5a2e" stroke="#2a5a2e" textLength="314.0" lengthAdjust="spacingAndGlyphs">HF948262_05_DK_COPW55085</text>
<text transform="translate(402.3,736.10) rotate(0.05) scale(0.32)" fill="#2a5a2e" stroke="#2a5a2e" textLength="252.4" lengthAdjust="spacingAndGlyphs">GQ362392_03_BY_F1290</text>
<text transform="translate(402.3,739.79) rotate(0.05) scale(0.32)" fill="#2a5a2e" stroke="#2a5a2e" textLength="286.7" lengthAdjust="spacingAndGlyphs">HF948219_01_DE_LUDW298</text>
<text transform="translate(402.3,743.48) rotate(0.05) scale(0.32)" fill="#2a5a2e" stroke="#2a5a2e" textLength="227.5" lengthAdjust="spacingAndGlyphs">DQ092797_02_DE_804</text>
<text transform="translate(402.3,747.17) rotate(0.05) scale(0.32)" fill="#2a5a2e" stroke="#2a5a2e" textLength="306.9" lengthAdjust="spacingAndGlyphs">HF948276_01_DK_COPF14824</text>
<text transform="translate(402.3,750.86) rotate(0.05) scale(0.32)" fill="#2a5a2e" stroke="#2a5a2e" textLength="260.7" lengthAdjust="spacingAndGlyphs">HF948226_03_CY_NIC001</text>
<text transform="translate(402.3,754.55) rotate(0.05) scale(0.32)" fill="#2a5a2e" stroke="#2a5a2e" textLength="309.2" lengthAdjust="spacingAndGlyphs">HF948073_03_DK_COPH17636</text>
<text transform="translate(402.3,758.25) rotate(0.05) scale(0.32)" fill="#2a5a2e" stroke="#2a5a2e" textLength="275.7" lengthAdjust="spacingAndGlyphs">HF948154_02_FR_LYO8585</text>
<text transform="translate(402.3,761.94) rotate(0.05) scale(0.32)" fill="#2a5a2e" stroke="#2a5a2e" textLength="251.2" lengthAdjust="spacingAndGlyphs">HF948123_00_FR_CF692</text>
<text transform="translate(402.3,765.63) rotate(0.05) scale(0.32)" fill="#2a5a2e" stroke="#2a5a2e" textLength="282.0" lengthAdjust="spacingAndGlyphs">HF948272_00_DK_COP6426</text>
<text transform="translate(402.3,769.32) rotate(0.05) scale(0.32)" fill="#2a5a2e" stroke="#2a5a2e" textLength="278.4" lengthAdjust="spacingAndGlyphs">HF948218_00_DE_FRA6571</text>
<text transform="translate(402.3,773.01) rotate(0.05) scale(0.32)" fill="#2a5a2e" stroke="#2a5a2e" textLength="306.9" lengthAdjust="spacingAndGlyphs">HF948074_01_DK_COPT17684</text>
<text transform="translate(402.3,776.70) rotate(0.05) scale(0.32)" fill="#2a5a2e" stroke="#2a5a2e" textLength="282.0" lengthAdjust="spacingAndGlyphs">HF948273_99_DK_COP9862</text>
<text transform="translate(402.3,780.39) rotate(0.05) scale(0.32)" fill="#2a5a2e" stroke="#2a5a2e" textLength="258.3" lengthAdjust="spacingAndGlyphs">HF948060_04_AU_VIE140</text>
<text transform="translate(402.3,784.09) rotate(0.05) scale(0.32)" fill="#2a5a2e" stroke="#2a5a2e" textLength="239.4" lengthAdjust="spacingAndGlyphs">KF293830_09_KW_3956</text>
<text transform="translate(402.3,787.78) rotate(0.05) scale(0.32)" fill="#2a5a2e" stroke="#2a5a2e" textLength="291.5" lengthAdjust="spacingAndGlyphs">HF948142_00_FR_NAN12764</text>
<text transform="translate(402.3,791.47) rotate(0.05) scale(0.32)" fill="#2a5a2e" stroke="#2a5a2e" textLength="270.1" lengthAdjust="spacingAndGlyphs">GU323865_96_FR_Fra9602</text>
<text transform="translate(402.3,795.16) rotate(0.05) scale(0.32)" fill="#2a5a2e" stroke="#2a5a2e" textLength="240.6" lengthAdjust="spacingAndGlyphs">GU565642_92_FI_58641</text>
<text transform="translate(402.3,798.85) rotate(0.05) scale(0.32)" fill="#2a5a2e" stroke="#2a5a2e" textLength="241.3" lengthAdjust="spacingAndGlyphs">FJ868233_91_AU_11219</text>
<text transform="translate(402.3,802.54) rotate(0.05) scale(0.32)" fill="#2a5a2e" stroke="#2a5a2e" textLength="242.9" lengthAdjust="spacingAndGlyphs">FJ868291_93_AU_44607</text>
<text transform="translate(402.3,806.24) rotate(0.05) scale(0.32)" fill="#2a5a2e" stroke="#2a5a2e" textLength="242.9" lengthAdjust="spacingAndGlyphs">FJ868534_91_AU_29888</text>
<text transform="translate(402.3,809.93) rotate(0.05) scale(0.32)" fill="#2a5a2e" stroke="#2a5a2e" textLength="239.0" lengthAdjust="spacingAndGlyphs">GU300035_89_FI_11636</text>
<text transform="translate(402.3,813.62) rotate(0.05) scale(0.32)" fill="#2a5a2e" stroke="#2a5a2e" textLength="228.7" lengthAdjust="spacingAndGlyphs">GU300037_87_FI_3174</text>
<text transform="translate(402.3,817.31) rotate(0.05) scale(0.32)" fill="#2a5a2e" stroke="#2a5a2e" textLength="240.6" lengthAdjust="spacingAndGlyphs">GU565656_88_FI_47684</text>
<text transform="translate(402.3,821.00) rotate(0.05) scale(0.32)" fill="#2a5a2e" stroke="#2a5a2e" textLength="228.7" lengthAdjust="spacingAndGlyphs">GU565653_87_FI_3086</text>
<text transform="translate(402.3,824.69) rotate(0.05) scale(0.32)" fill="#2a5a2e" stroke="#2a5a2e" textLength="274.9" lengthAdjust="spacingAndGlyphs">GU323876_88_FI_4378fin88</text>
<text transform="translate(402.3,828.38) rotate(0.05) scale(0.32)" fill="#2a5a2e" stroke="#2a5a2e" textLength="253.2" lengthAdjust="spacingAndGlyphs">FJ868295_92_AU_119229</text>
<text transform="translate(402.3,832.08) rotate(0.05) scale(0.32)" fill="#2a5a2e" stroke="#2a5a2e" textLength="228.7" lengthAdjust="spacingAndGlyphs">GU565659_89_FI_2972</text>
<text transform="translate(402.3,835.77) rotate(0.05) scale(0.32)" fill="#2a5a2e" stroke="#2a5a2e" textLength="240.6" lengthAdjust="spacingAndGlyphs">GU300040_91_FI_45906</text>
<text transform="translate(402.3,839.46) rotate(0.05) scale(0.32)" fill="#2a5a2e" stroke="#2a5a2e" textLength="251.2" lengthAdjust="spacingAndGlyphs">HF948050_93_FR_CF688</text>
<text transform="translate(402.3,843.15) rotate(0.05) scale(0.32)" fill="#2a5a2e" stroke="#2a5a2e" textLength="234.6" lengthAdjust="spacingAndGlyphs">KT285009_85_US_4634</text>
<text transform="translate(402.3,846.84) rotate(0.05) scale(0.32)" fill="#2a5a2e" stroke="#2a5a2e" textLength="239.4" lengthAdjust="spacingAndGlyphs">GU300051_87_US_5526</text>
<text transform="translate(402.3,850.53) rotate(0.05) scale(0.32)" fill="#5a5a66" stroke="#5a5a66" textLength="186.1" lengthAdjust="spacingAndGlyphs">X67706_54_UK_86</text>
<text transform="translate(402.3,854.22) rotate(0.05) scale(0.32)" fill="#6a9e3a" stroke="#6a9e3a" textLength="293.9" lengthAdjust="spacingAndGlyphs">GU323875_95_RU_5669rus95</text>
<text transform="translate(402.3,857.92) rotate(0.05) scale(0.32)" fill="#6a9e3a" stroke="#6a9e3a" textLength="236.6" lengthAdjust="spacingAndGlyphs">GU300042_87_ES_1147</text>
<text transform="translate(402.3,861.61) rotate(0.05) scale(0.32)" fill="#6a9e3a" stroke="#6a9e3a" textLength="233.4" lengthAdjust="spacingAndGlyphs">KT285016_84_FR_2300</text>
<text transform="translate(402.3,865.30) rotate(0.05) scale(0.32)" fill="#6a9e3a" stroke="#6a9e3a" textLength="263.0" lengthAdjust="spacingAndGlyphs">HF948025_78_FR_CF5565</text>
<text transform="translate(402.3,868.99) rotate(0.05) scale(0.32)" fill="#6a9e3a" stroke="#6a9e3a" textLength="261.4" lengthAdjust="spacingAndGlyphs">HF948115_78_FR_CF8415</text>
<text transform="translate(402.3,872.68) rotate(0.05) scale(0.32)" fill="#6a9e3a" stroke="#6a9e3a" textLength="251.2" lengthAdjust="spacingAndGlyphs">GU300045_86_DK_39331</text>
<text transform="translate(402.3,876.37) rotate(0.05) scale(0.32)" fill="#6a9e3a" stroke="#6a9e3a" textLength="234.6" lengthAdjust="spacingAndGlyphs">KT285007_72_US_4483</text>
<text transform="translate(402.3,880.07) rotate(0.05) scale(0.32)" fill="#6a9e3a" stroke="#6a9e3a" textLength="249.6" lengthAdjust="spacingAndGlyphs">GU565653_72_US_46114</text>
<text transform="translate(402.3,883.76) rotate(0.05) scale(0.32)" fill="#6a9e3a" stroke="#6a9e3a" textLength="234.6" lengthAdjust="spacingAndGlyphs">KT285010_73_UK_9864</text>
<text transform="translate(402.3,887.45) rotate(0.05) scale(0.32)" fill="#6a9e3a" stroke="#6a9e3a" textLength="233.1" lengthAdjust="spacingAndGlyphs">KT285011_73_UK_2066</text>
<text transform="translate(402.3,891.14) rotate(0.05) scale(0.32)" fill="#6a9e3a" stroke="#6a9e3a" textLength="234.6" lengthAdjust="spacingAndGlyphs">KT285005_70_US_2137</text>
<text transform="translate(402.3,894.83) rotate(0.05) scale(0.32)" fill="#6a9e3a" stroke="#6a9e3a" textLength="222.8" lengthAdjust="spacingAndGlyphs">KT285013_72_HK_372</text>
<text transform="translate(402.3,898.52) rotate(0.05) scale(0.32)" fill="#6a9e3a" stroke="#6a9e3a" textLength="227.5" lengthAdjust="spacingAndGlyphs">GU300061_82_DK_917</text>
<text transform="translate(402.3,902.21) rotate(0.05) scale(0.32)" fill="#6a9e3a" stroke="#6a9e3a" textLength="224.0" lengthAdjust="spacingAndGlyphs">KT285012_82_FI_1885</text>
<text transform="translate(402.3,905.91) rotate(0.05) scale(0.32)" fill="#6a9e3a" stroke="#6a9e3a" textLength="239.4" lengthAdjust="spacingAndGlyphs">GU300050_82_US_3929</text>
<text transform="translate(402.3,909.60) rotate(0.05) scale(0.32)" fill="#6a9e3a" stroke="#6a9e3a" textLength="240.6" lengthAdjust="spacingAndGlyphs">GU300046_84_FI_26102</text>
<text transform="translate(402.3,913.29) rotate(0.05) scale(0.32)" fill="#6a9e3a" stroke="#6a9e3a" textLength="240.6" lengthAdjust="spacingAndGlyphs">GU565647_85_FI_53492</text>
<text transform="translate(402.3,916.98) rotate(0.05) scale(0.32)" fill="#6a9e3a" stroke="#6a9e3a" textLength="251.2" lengthAdjust="spacingAndGlyphs">GU300048_75_DK_35206</text>
<text transform="translate(402.3,920.67) rotate(0.05) scale(0.32)" fill="#6a9e3a" stroke="#6a9e3a" textLength="234.6" lengthAdjust="spacingAndGlyphs">KT285008_77_US_9030</text>
<text transform="translate(402.3,924.36) rotate(0.05) scale(0.32)" fill="#7a5030" stroke="#7a5030" textLength="240.5" lengthAdjust="spacingAndGlyphs">GU565664_79_HN_1641</text>
<text transform="translate(402.3,928.05) rotate(0.05) scale(0.32)" fill="#7a5030" stroke="#7a5030" textLength="296.2" lengthAdjust="spacingAndGlyphs">GU323872_71_DO_2156dor71</text>
<text transform="translate(402.3,931.75) rotate(0.05) scale(0.32)" fill="#7a5030" stroke="#7a5030" textLength="240.5" lengthAdjust="spacingAndGlyphs">GU300065_85_HN_6309</text>
</g>
<path d="M511 18.2 H525 V85.4 H511" fill="none" stroke="#9a2682" stroke-width="1.6"/>
<path d="M511 88.4 H525 V185.1 H511" fill="none" stroke="#5a3e98" stroke-width="1.6"/>
<path d="M511 188.1 H525 V210.9 H511" fill="none" stroke="#4e4896" stroke-width="1.6"/>
<path d="M511 213.9 H525 V314.3 H511" fill="none" stroke="#2a86c0" stroke-width="1.6"/>
<path d="M511 324.6 H525 V487.8 H511" fill="none" stroke="#2a58a8" stroke-width="1.6"/>
<path d="M511 494.4 H525 V546.8 H511" fill="none" stroke="#1e3a74" stroke-width="1.6"/>
<path d="M511 553.5 H525 V565.3 H511" fill="none" stroke="#1a2e5a" stroke-width="1.6"/>
<path d="M511 575.7 H525 V587.4 H511" fill="none" stroke="#d07a2a" stroke-width="1.6"/>
<path d="M511 590.4 H525 V845.8 H511" fill="none" stroke="#2a5a2e" stroke-width="1.6"/>
<path d="M511 852.5 H525 V919.7 H511" fill="none" stroke="#6a9e3a" stroke-width="1.6"/>
<path d="M511 922.7 H525 V930.7 H511" fill="none" stroke="#7a5030" stroke-width="1.6"/>
<g fill="#9a2682"><rect x="546.0" y="43.9" width="16.0" height="1.1"/><rect x="546.0" y="57.7" width="16.0" height="1.1"/>
<rect x="548.0" y="43.9" width="1.3" height="14.9"/>
<rect x="553.4" y="43.9" width="1.3" height="14.9"/>
<rect x="559.0" y="43.9" width="1.3" height="14.9"/>
</g>
<g fill="#5a3e98"><rect x="547.0" y="130.0" width="14.0" height="1.1"/><rect x="547.0" y="142.7" width="14.0" height="1.1"/>
<rect x="549.3" y="130.0" width="1.3" height="13.8"/>
<rect x="557.5" y="130.0" width="1.3" height="13.8"/>
</g>
<g fill="#4e4896"><rect x="550.5" y="192.5" width="7.5" height="1.1"/><rect x="550.5" y="205.3" width="7.5" height="1.1"/>
<rect x="553.5" y="192.5" width="1.3" height="13.9"/>
</g>
<text x="543.6" y="271.5" font-size="19.8" fill="#2a86c0" stroke="#2a86c0" stroke-width="0.25">A1</text>
<text x="543.6" y="413.6" font-size="19.8" fill="#2a58a8" stroke="#2a58a8" stroke-width="0.25">A4</text>
<text x="543.6" y="527.7" font-size="19.8" fill="#1e3a74" stroke="#1e3a74" stroke-width="0.25">A3</text>
<text x="543.6" y="566.6" font-size="19.8" fill="#1a2e5a" stroke="#1a2e5a" stroke-width="0.25">A2</text>
<text x="543.6" y="587.6" font-size="16.2" fill="#d07a2a" stroke="#d07a2a" stroke-width="0.25">A0</text>
<text x="543.6" y="725.3" font-size="19.0" fill="#2a5a2e" stroke="#2a5a2e" stroke-width="0.25">B2</text>
<text x="543.6" y="892.7" font-size="19.0" fill="#6a9e3a" stroke="#6a9e3a" stroke-width="0.25">B1</text>
<text x="543.6" y="933.0" font-size="15.5" fill="#7a5030" stroke="#7a5030" stroke-width="0.25">B0</text>
<text x="524.7" y="12.4" font-size="14.4" fill="#111" stroke="#111" stroke-width="0.3" textLength="69.5" lengthAdjust="spacingAndGlyphs">Genotype</text>
<text x="607.7" y="12.4" font-size="14.4" fill="#111" stroke="#111" stroke-width="0.3" textLength="64.3" lengthAdjust="spacingAndGlyphs">Serotype</text>
<path d="M605 18.1 H618.8 V209.8 H605" fill="none" stroke="#111" stroke-width="2"/>
<path d="M605 213.9 H618.8 V930.7 H605" fill="none" stroke="#111" stroke-width="2"/>
<text transform="translate(644.2,85.8) rotate(90)" font-size="22.2" fill="#111" stroke="#111" stroke-width="0.35" textLength="57.2" lengthAdjust="spacingAndGlyphs">SVDV</text>
<text transform="translate(644.2,542.3) rotate(90)" font-size="22.2" fill="#111" stroke="#111" stroke-width="0.35" textLength="59.7" lengthAdjust="spacingAndGlyphs">CV-B5</text>
</svg></body></html>
